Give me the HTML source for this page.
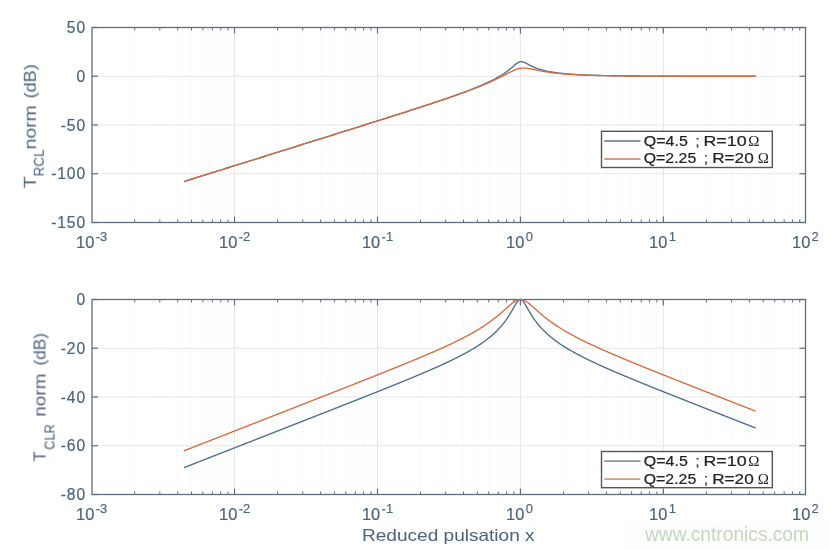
<!DOCTYPE html>
<html><head><meta charset="utf-8"><title>Bode plot</title><style>
html,body{margin:0;padding:0;background:#fff;}
body{width:829px;height:550px;overflow:hidden;}
svg{display:block;}
text{font-family:"Liberation Sans",sans-serif;will-change:transform;}
.tl{font-size:15.6px;fill:#4b6280;stroke:#4b6280;stroke-width:0.2px;letter-spacing:0.9px;}
.xt{font-size:15.6px;fill:#4b6280;stroke:#4b6280;stroke-width:0.2px;}
.sup{font-size:13px;fill:#4b6280;stroke:#4b6280;stroke-width:0.15px;}
.yl{font-size:16.5px;fill:#4b6280;}
.ys{font-size:14.5px;fill:#4b6280;}
.xl{font-size:16.5px;fill:#4b6280;}
.lg{font-size:14.2px;fill:#222;stroke:#222;stroke-width:0.2px;}
.om{font-family:"Liberation Serif",serif;font-size:15px;stroke:none;}
.wm{font-size:19.6px;fill:#c3d8bb;}
</style></head>
<body>
<svg width="829" height="550" viewBox="0 0 829 550">
<line x1="134.63" y1="27.5" x2="134.63" y2="222.5" stroke="#ebebeb" stroke-width="1" stroke-dasharray="1 3"/>
<line x1="159.80" y1="27.5" x2="159.80" y2="222.5" stroke="#ebebeb" stroke-width="1" stroke-dasharray="1 3"/>
<line x1="177.66" y1="27.5" x2="177.66" y2="222.5" stroke="#ebebeb" stroke-width="1" stroke-dasharray="1 3"/>
<line x1="191.51" y1="27.5" x2="191.51" y2="222.5" stroke="#ebebeb" stroke-width="1" stroke-dasharray="1 3"/>
<line x1="202.83" y1="27.5" x2="202.83" y2="222.5" stroke="#ebebeb" stroke-width="1" stroke-dasharray="1 3"/>
<line x1="212.40" y1="27.5" x2="212.40" y2="222.5" stroke="#ebebeb" stroke-width="1" stroke-dasharray="1 3"/>
<line x1="220.69" y1="27.5" x2="220.69" y2="222.5" stroke="#ebebeb" stroke-width="1" stroke-dasharray="1 3"/>
<line x1="228.00" y1="27.5" x2="228.00" y2="222.5" stroke="#ebebeb" stroke-width="1" stroke-dasharray="1 3"/>
<line x1="277.57" y1="27.5" x2="277.57" y2="222.5" stroke="#ebebeb" stroke-width="1" stroke-dasharray="1 3"/>
<line x1="302.74" y1="27.5" x2="302.74" y2="222.5" stroke="#ebebeb" stroke-width="1" stroke-dasharray="1 3"/>
<line x1="320.60" y1="27.5" x2="320.60" y2="222.5" stroke="#ebebeb" stroke-width="1" stroke-dasharray="1 3"/>
<line x1="334.45" y1="27.5" x2="334.45" y2="222.5" stroke="#ebebeb" stroke-width="1" stroke-dasharray="1 3"/>
<line x1="345.77" y1="27.5" x2="345.77" y2="222.5" stroke="#ebebeb" stroke-width="1" stroke-dasharray="1 3"/>
<line x1="355.34" y1="27.5" x2="355.34" y2="222.5" stroke="#ebebeb" stroke-width="1" stroke-dasharray="1 3"/>
<line x1="363.63" y1="27.5" x2="363.63" y2="222.5" stroke="#ebebeb" stroke-width="1" stroke-dasharray="1 3"/>
<line x1="370.94" y1="27.5" x2="370.94" y2="222.5" stroke="#ebebeb" stroke-width="1" stroke-dasharray="1 3"/>
<line x1="420.51" y1="27.5" x2="420.51" y2="222.5" stroke="#ebebeb" stroke-width="1" stroke-dasharray="1 3"/>
<line x1="445.68" y1="27.5" x2="445.68" y2="222.5" stroke="#ebebeb" stroke-width="1" stroke-dasharray="1 3"/>
<line x1="463.54" y1="27.5" x2="463.54" y2="222.5" stroke="#ebebeb" stroke-width="1" stroke-dasharray="1 3"/>
<line x1="477.39" y1="27.5" x2="477.39" y2="222.5" stroke="#ebebeb" stroke-width="1" stroke-dasharray="1 3"/>
<line x1="488.71" y1="27.5" x2="488.71" y2="222.5" stroke="#ebebeb" stroke-width="1" stroke-dasharray="1 3"/>
<line x1="498.28" y1="27.5" x2="498.28" y2="222.5" stroke="#ebebeb" stroke-width="1" stroke-dasharray="1 3"/>
<line x1="506.57" y1="27.5" x2="506.57" y2="222.5" stroke="#ebebeb" stroke-width="1" stroke-dasharray="1 3"/>
<line x1="513.88" y1="27.5" x2="513.88" y2="222.5" stroke="#ebebeb" stroke-width="1" stroke-dasharray="1 3"/>
<line x1="563.45" y1="27.5" x2="563.45" y2="222.5" stroke="#ebebeb" stroke-width="1" stroke-dasharray="1 3"/>
<line x1="588.62" y1="27.5" x2="588.62" y2="222.5" stroke="#ebebeb" stroke-width="1" stroke-dasharray="1 3"/>
<line x1="606.48" y1="27.5" x2="606.48" y2="222.5" stroke="#ebebeb" stroke-width="1" stroke-dasharray="1 3"/>
<line x1="620.33" y1="27.5" x2="620.33" y2="222.5" stroke="#ebebeb" stroke-width="1" stroke-dasharray="1 3"/>
<line x1="631.65" y1="27.5" x2="631.65" y2="222.5" stroke="#ebebeb" stroke-width="1" stroke-dasharray="1 3"/>
<line x1="641.22" y1="27.5" x2="641.22" y2="222.5" stroke="#ebebeb" stroke-width="1" stroke-dasharray="1 3"/>
<line x1="649.51" y1="27.5" x2="649.51" y2="222.5" stroke="#ebebeb" stroke-width="1" stroke-dasharray="1 3"/>
<line x1="656.82" y1="27.5" x2="656.82" y2="222.5" stroke="#ebebeb" stroke-width="1" stroke-dasharray="1 3"/>
<line x1="706.39" y1="27.5" x2="706.39" y2="222.5" stroke="#ebebeb" stroke-width="1" stroke-dasharray="1 3"/>
<line x1="731.56" y1="27.5" x2="731.56" y2="222.5" stroke="#ebebeb" stroke-width="1" stroke-dasharray="1 3"/>
<line x1="749.42" y1="27.5" x2="749.42" y2="222.5" stroke="#ebebeb" stroke-width="1" stroke-dasharray="1 3"/>
<line x1="763.27" y1="27.5" x2="763.27" y2="222.5" stroke="#ebebeb" stroke-width="1" stroke-dasharray="1 3"/>
<line x1="774.59" y1="27.5" x2="774.59" y2="222.5" stroke="#ebebeb" stroke-width="1" stroke-dasharray="1 3"/>
<line x1="784.16" y1="27.5" x2="784.16" y2="222.5" stroke="#ebebeb" stroke-width="1" stroke-dasharray="1 3"/>
<line x1="792.45" y1="27.5" x2="792.45" y2="222.5" stroke="#ebebeb" stroke-width="1" stroke-dasharray="1 3"/>
<line x1="799.76" y1="27.5" x2="799.76" y2="222.5" stroke="#ebebeb" stroke-width="1" stroke-dasharray="1 3"/>
<line x1="234.54" y1="27.5" x2="234.54" y2="222.5" stroke="#e6e6e6" stroke-width="1"/>
<line x1="377.48" y1="27.5" x2="377.48" y2="222.5" stroke="#e6e6e6" stroke-width="1"/>
<line x1="520.42" y1="27.5" x2="520.42" y2="222.5" stroke="#e6e6e6" stroke-width="1"/>
<line x1="663.36" y1="27.5" x2="663.36" y2="222.5" stroke="#e6e6e6" stroke-width="1"/>
<line x1="92.0" y1="76.25" x2="805.5" y2="76.25" stroke="#e6e6e6" stroke-width="1"/>
<line x1="92.0" y1="125.00" x2="805.5" y2="125.00" stroke="#e6e6e6" stroke-width="1"/>
<line x1="92.0" y1="173.75" x2="805.5" y2="173.75" stroke="#e6e6e6" stroke-width="1"/>
<line x1="234.54" y1="27.5" x2="234.54" y2="33.5" stroke="#606e7c" stroke-width="1.2"/>
<line x1="234.54" y1="222.5" x2="234.54" y2="216.5" stroke="#606e7c" stroke-width="1.2"/>
<line x1="377.48" y1="27.5" x2="377.48" y2="33.5" stroke="#606e7c" stroke-width="1.2"/>
<line x1="377.48" y1="222.5" x2="377.48" y2="216.5" stroke="#606e7c" stroke-width="1.2"/>
<line x1="520.42" y1="27.5" x2="520.42" y2="33.5" stroke="#606e7c" stroke-width="1.2"/>
<line x1="520.42" y1="222.5" x2="520.42" y2="216.5" stroke="#606e7c" stroke-width="1.2"/>
<line x1="663.36" y1="27.5" x2="663.36" y2="33.5" stroke="#606e7c" stroke-width="1.2"/>
<line x1="663.36" y1="222.5" x2="663.36" y2="216.5" stroke="#606e7c" stroke-width="1.2"/>
<line x1="134.63" y1="27.5" x2="134.63" y2="30.5" stroke="#606e7c" stroke-width="1"/>
<line x1="134.63" y1="222.5" x2="134.63" y2="219.5" stroke="#606e7c" stroke-width="1"/>
<line x1="159.80" y1="27.5" x2="159.80" y2="30.5" stroke="#606e7c" stroke-width="1"/>
<line x1="159.80" y1="222.5" x2="159.80" y2="219.5" stroke="#606e7c" stroke-width="1"/>
<line x1="177.66" y1="27.5" x2="177.66" y2="30.5" stroke="#606e7c" stroke-width="1"/>
<line x1="177.66" y1="222.5" x2="177.66" y2="219.5" stroke="#606e7c" stroke-width="1"/>
<line x1="191.51" y1="27.5" x2="191.51" y2="30.5" stroke="#606e7c" stroke-width="1"/>
<line x1="191.51" y1="222.5" x2="191.51" y2="219.5" stroke="#606e7c" stroke-width="1"/>
<line x1="202.83" y1="27.5" x2="202.83" y2="30.5" stroke="#606e7c" stroke-width="1"/>
<line x1="202.83" y1="222.5" x2="202.83" y2="219.5" stroke="#606e7c" stroke-width="1"/>
<line x1="212.40" y1="27.5" x2="212.40" y2="30.5" stroke="#606e7c" stroke-width="1"/>
<line x1="212.40" y1="222.5" x2="212.40" y2="219.5" stroke="#606e7c" stroke-width="1"/>
<line x1="220.69" y1="27.5" x2="220.69" y2="30.5" stroke="#606e7c" stroke-width="1"/>
<line x1="220.69" y1="222.5" x2="220.69" y2="219.5" stroke="#606e7c" stroke-width="1"/>
<line x1="228.00" y1="27.5" x2="228.00" y2="30.5" stroke="#606e7c" stroke-width="1"/>
<line x1="228.00" y1="222.5" x2="228.00" y2="219.5" stroke="#606e7c" stroke-width="1"/>
<line x1="277.57" y1="27.5" x2="277.57" y2="30.5" stroke="#606e7c" stroke-width="1"/>
<line x1="277.57" y1="222.5" x2="277.57" y2="219.5" stroke="#606e7c" stroke-width="1"/>
<line x1="302.74" y1="27.5" x2="302.74" y2="30.5" stroke="#606e7c" stroke-width="1"/>
<line x1="302.74" y1="222.5" x2="302.74" y2="219.5" stroke="#606e7c" stroke-width="1"/>
<line x1="320.60" y1="27.5" x2="320.60" y2="30.5" stroke="#606e7c" stroke-width="1"/>
<line x1="320.60" y1="222.5" x2="320.60" y2="219.5" stroke="#606e7c" stroke-width="1"/>
<line x1="334.45" y1="27.5" x2="334.45" y2="30.5" stroke="#606e7c" stroke-width="1"/>
<line x1="334.45" y1="222.5" x2="334.45" y2="219.5" stroke="#606e7c" stroke-width="1"/>
<line x1="345.77" y1="27.5" x2="345.77" y2="30.5" stroke="#606e7c" stroke-width="1"/>
<line x1="345.77" y1="222.5" x2="345.77" y2="219.5" stroke="#606e7c" stroke-width="1"/>
<line x1="355.34" y1="27.5" x2="355.34" y2="30.5" stroke="#606e7c" stroke-width="1"/>
<line x1="355.34" y1="222.5" x2="355.34" y2="219.5" stroke="#606e7c" stroke-width="1"/>
<line x1="363.63" y1="27.5" x2="363.63" y2="30.5" stroke="#606e7c" stroke-width="1"/>
<line x1="363.63" y1="222.5" x2="363.63" y2="219.5" stroke="#606e7c" stroke-width="1"/>
<line x1="370.94" y1="27.5" x2="370.94" y2="30.5" stroke="#606e7c" stroke-width="1"/>
<line x1="370.94" y1="222.5" x2="370.94" y2="219.5" stroke="#606e7c" stroke-width="1"/>
<line x1="420.51" y1="27.5" x2="420.51" y2="30.5" stroke="#606e7c" stroke-width="1"/>
<line x1="420.51" y1="222.5" x2="420.51" y2="219.5" stroke="#606e7c" stroke-width="1"/>
<line x1="445.68" y1="27.5" x2="445.68" y2="30.5" stroke="#606e7c" stroke-width="1"/>
<line x1="445.68" y1="222.5" x2="445.68" y2="219.5" stroke="#606e7c" stroke-width="1"/>
<line x1="463.54" y1="27.5" x2="463.54" y2="30.5" stroke="#606e7c" stroke-width="1"/>
<line x1="463.54" y1="222.5" x2="463.54" y2="219.5" stroke="#606e7c" stroke-width="1"/>
<line x1="477.39" y1="27.5" x2="477.39" y2="30.5" stroke="#606e7c" stroke-width="1"/>
<line x1="477.39" y1="222.5" x2="477.39" y2="219.5" stroke="#606e7c" stroke-width="1"/>
<line x1="488.71" y1="27.5" x2="488.71" y2="30.5" stroke="#606e7c" stroke-width="1"/>
<line x1="488.71" y1="222.5" x2="488.71" y2="219.5" stroke="#606e7c" stroke-width="1"/>
<line x1="498.28" y1="27.5" x2="498.28" y2="30.5" stroke="#606e7c" stroke-width="1"/>
<line x1="498.28" y1="222.5" x2="498.28" y2="219.5" stroke="#606e7c" stroke-width="1"/>
<line x1="506.57" y1="27.5" x2="506.57" y2="30.5" stroke="#606e7c" stroke-width="1"/>
<line x1="506.57" y1="222.5" x2="506.57" y2="219.5" stroke="#606e7c" stroke-width="1"/>
<line x1="513.88" y1="27.5" x2="513.88" y2="30.5" stroke="#606e7c" stroke-width="1"/>
<line x1="513.88" y1="222.5" x2="513.88" y2="219.5" stroke="#606e7c" stroke-width="1"/>
<line x1="563.45" y1="27.5" x2="563.45" y2="30.5" stroke="#606e7c" stroke-width="1"/>
<line x1="563.45" y1="222.5" x2="563.45" y2="219.5" stroke="#606e7c" stroke-width="1"/>
<line x1="588.62" y1="27.5" x2="588.62" y2="30.5" stroke="#606e7c" stroke-width="1"/>
<line x1="588.62" y1="222.5" x2="588.62" y2="219.5" stroke="#606e7c" stroke-width="1"/>
<line x1="606.48" y1="27.5" x2="606.48" y2="30.5" stroke="#606e7c" stroke-width="1"/>
<line x1="606.48" y1="222.5" x2="606.48" y2="219.5" stroke="#606e7c" stroke-width="1"/>
<line x1="620.33" y1="27.5" x2="620.33" y2="30.5" stroke="#606e7c" stroke-width="1"/>
<line x1="620.33" y1="222.5" x2="620.33" y2="219.5" stroke="#606e7c" stroke-width="1"/>
<line x1="631.65" y1="27.5" x2="631.65" y2="30.5" stroke="#606e7c" stroke-width="1"/>
<line x1="631.65" y1="222.5" x2="631.65" y2="219.5" stroke="#606e7c" stroke-width="1"/>
<line x1="641.22" y1="27.5" x2="641.22" y2="30.5" stroke="#606e7c" stroke-width="1"/>
<line x1="641.22" y1="222.5" x2="641.22" y2="219.5" stroke="#606e7c" stroke-width="1"/>
<line x1="649.51" y1="27.5" x2="649.51" y2="30.5" stroke="#606e7c" stroke-width="1"/>
<line x1="649.51" y1="222.5" x2="649.51" y2="219.5" stroke="#606e7c" stroke-width="1"/>
<line x1="656.82" y1="27.5" x2="656.82" y2="30.5" stroke="#606e7c" stroke-width="1"/>
<line x1="656.82" y1="222.5" x2="656.82" y2="219.5" stroke="#606e7c" stroke-width="1"/>
<line x1="706.39" y1="27.5" x2="706.39" y2="30.5" stroke="#606e7c" stroke-width="1"/>
<line x1="706.39" y1="222.5" x2="706.39" y2="219.5" stroke="#606e7c" stroke-width="1"/>
<line x1="731.56" y1="27.5" x2="731.56" y2="30.5" stroke="#606e7c" stroke-width="1"/>
<line x1="731.56" y1="222.5" x2="731.56" y2="219.5" stroke="#606e7c" stroke-width="1"/>
<line x1="749.42" y1="27.5" x2="749.42" y2="30.5" stroke="#606e7c" stroke-width="1"/>
<line x1="749.42" y1="222.5" x2="749.42" y2="219.5" stroke="#606e7c" stroke-width="1"/>
<line x1="763.27" y1="27.5" x2="763.27" y2="30.5" stroke="#606e7c" stroke-width="1"/>
<line x1="763.27" y1="222.5" x2="763.27" y2="219.5" stroke="#606e7c" stroke-width="1"/>
<line x1="774.59" y1="27.5" x2="774.59" y2="30.5" stroke="#606e7c" stroke-width="1"/>
<line x1="774.59" y1="222.5" x2="774.59" y2="219.5" stroke="#606e7c" stroke-width="1"/>
<line x1="784.16" y1="27.5" x2="784.16" y2="30.5" stroke="#606e7c" stroke-width="1"/>
<line x1="784.16" y1="222.5" x2="784.16" y2="219.5" stroke="#606e7c" stroke-width="1"/>
<line x1="792.45" y1="27.5" x2="792.45" y2="30.5" stroke="#606e7c" stroke-width="1"/>
<line x1="792.45" y1="222.5" x2="792.45" y2="219.5" stroke="#606e7c" stroke-width="1"/>
<line x1="799.76" y1="27.5" x2="799.76" y2="30.5" stroke="#606e7c" stroke-width="1"/>
<line x1="799.76" y1="222.5" x2="799.76" y2="219.5" stroke="#606e7c" stroke-width="1"/>
<line x1="92.0" y1="27.50" x2="98.0" y2="27.50" stroke="#606e7c" stroke-width="1.2"/>
<line x1="805.5" y1="27.50" x2="799.5" y2="27.50" stroke="#606e7c" stroke-width="1.2"/>
<line x1="92.0" y1="76.25" x2="98.0" y2="76.25" stroke="#606e7c" stroke-width="1.2"/>
<line x1="805.5" y1="76.25" x2="799.5" y2="76.25" stroke="#606e7c" stroke-width="1.2"/>
<line x1="92.0" y1="125.00" x2="98.0" y2="125.00" stroke="#606e7c" stroke-width="1.2"/>
<line x1="805.5" y1="125.00" x2="799.5" y2="125.00" stroke="#606e7c" stroke-width="1.2"/>
<line x1="92.0" y1="173.75" x2="98.0" y2="173.75" stroke="#606e7c" stroke-width="1.2"/>
<line x1="805.5" y1="173.75" x2="799.5" y2="173.75" stroke="#606e7c" stroke-width="1.2"/>
<line x1="92.0" y1="222.50" x2="98.0" y2="222.50" stroke="#606e7c" stroke-width="1.2"/>
<line x1="805.5" y1="222.50" x2="799.5" y2="222.50" stroke="#606e7c" stroke-width="1.2"/>
<rect x="92.0" y="27.5" width="713.5" height="195.0" fill="none" stroke="#606e7c" stroke-width="1.3"/>
<polyline fill="none" stroke="#4a6d91" stroke-width="1.35" stroke-linejoin="round" points="183.94,181.55 184.76,181.30 185.57,181.04 186.39,180.78 187.21,180.53 188.02,180.27 188.84,180.02 189.66,179.76 190.47,179.51 191.29,179.25 192.11,179.00 192.92,178.74 193.74,178.48 194.56,178.23 195.37,177.97 196.19,177.72 197.01,177.46 197.82,177.21 198.64,176.95 199.46,176.69 200.28,176.44 201.09,176.18 201.91,175.93 202.73,175.67 203.54,175.42 204.36,175.16 205.18,174.91 205.99,174.65 206.81,174.39 207.63,174.14 208.44,173.88 209.26,173.63 210.08,173.37 210.89,173.12 211.71,172.86 212.53,172.60 213.34,172.35 214.16,172.09 214.98,171.84 215.79,171.58 216.61,171.33 217.43,171.07 218.24,170.82 219.06,170.56 219.88,170.30 220.70,170.05 221.51,169.79 222.33,169.54 223.15,169.28 223.96,169.03 224.78,168.77 225.60,168.51 226.41,168.26 227.23,168.00 228.05,167.75 228.86,167.49 229.68,167.24 230.50,166.98 231.31,166.72 232.13,166.47 232.95,166.21 233.76,165.96 234.58,165.70 235.40,165.45 236.21,165.19 237.03,164.94 237.85,164.68 238.66,164.42 239.48,164.17 240.30,163.91 241.12,163.66 241.93,163.40 242.75,163.15 243.57,162.89 244.38,162.63 245.20,162.38 246.02,162.12 246.83,161.87 247.65,161.61 248.47,161.36 249.28,161.10 250.10,160.84 250.92,160.59 251.73,160.33 252.55,160.08 253.37,159.82 254.18,159.57 255.00,159.31 255.82,159.06 256.63,158.80 257.45,158.54 258.27,158.29 259.08,158.03 259.90,157.78 260.72,157.52 261.54,157.27 262.35,157.01 263.17,156.75 263.99,156.50 264.80,156.24 265.62,155.99 266.44,155.73 267.25,155.48 268.07,155.22 268.89,154.96 269.70,154.71 270.52,154.45 271.34,154.20 272.15,153.94 272.97,153.69 273.79,153.43 274.60,153.17 275.42,152.92 276.24,152.66 277.05,152.41 277.87,152.15 278.69,151.90 279.50,151.64 280.32,151.38 281.14,151.13 281.96,150.87 282.77,150.62 283.59,150.36 284.41,150.11 285.22,149.85 286.04,149.59 286.86,149.34 287.67,149.08 288.49,148.83 289.31,148.57 290.12,148.32 290.94,148.06 291.76,147.80 292.57,147.55 293.39,147.29 294.21,147.04 295.02,146.78 295.84,146.53 296.66,146.27 297.47,146.01 298.29,145.76 299.11,145.50 299.92,145.25 300.74,144.99 301.56,144.73 302.38,144.48 303.19,144.22 304.01,143.97 304.83,143.71 305.64,143.46 306.46,143.20 307.28,142.94 308.09,142.69 308.91,142.43 309.73,142.18 310.54,141.92 311.36,141.66 312.18,141.41 312.99,141.15 313.81,140.90 314.63,140.64 315.44,140.38 316.26,140.13 317.08,139.87 317.89,139.62 318.71,139.36 319.53,139.10 320.34,138.85 321.16,138.59 321.98,138.34 322.80,138.08 323.61,137.82 324.43,137.57 325.25,137.31 326.06,137.06 326.88,136.80 327.70,136.54 328.51,136.29 329.33,136.03 330.15,135.78 330.96,135.52 331.78,135.26 332.60,135.01 333.41,134.75 334.23,134.49 335.05,134.24 335.86,133.98 336.68,133.73 337.50,133.47 338.31,133.21 339.13,132.96 339.95,132.70 340.76,132.44 341.58,132.19 342.40,131.93 343.22,131.67 344.03,131.42 344.85,131.16 345.67,130.91 346.48,130.65 347.30,130.39 348.12,130.14 348.93,129.88 349.75,129.62 350.57,129.37 351.38,129.11 352.20,128.85 353.02,128.60 353.83,128.34 354.65,128.08 355.47,127.83 356.28,127.57 357.10,127.31 357.92,127.05 358.73,126.80 359.55,126.54 360.37,126.28 361.18,126.03 362.00,125.77 362.82,125.51 363.64,125.25 364.45,125.00 365.27,124.74 366.09,124.48 366.90,124.23 367.72,123.97 368.54,123.71 369.35,123.45 370.17,123.20 370.99,122.94 371.80,122.68 372.62,122.42 373.44,122.16 374.25,121.91 375.07,121.65 375.89,121.39 376.70,121.13 377.52,120.87 378.34,120.62 379.15,120.36 379.97,120.10 380.79,119.84 381.60,119.58 382.42,119.32 383.24,119.07 384.06,118.81 384.87,118.55 385.69,118.29 386.51,118.03 387.32,117.77 388.14,117.51 388.96,117.25 389.77,116.99 390.59,116.73 391.41,116.48 392.22,116.22 393.04,115.96 393.86,115.70 394.67,115.44 395.49,115.18 396.31,114.92 397.12,114.66 397.94,114.39 398.76,114.13 399.57,113.87 400.39,113.61 401.21,113.35 402.02,113.09 402.84,112.83 403.66,112.57 404.48,112.31 405.29,112.04 406.11,111.78 406.93,111.52 407.74,111.26 408.56,111.00 409.38,110.73 410.19,110.47 411.01,110.21 411.83,109.94 412.64,109.68 413.46,109.42 414.28,109.15 415.09,108.89 415.91,108.62 416.73,108.36 417.54,108.09 418.36,107.83 419.18,107.56 419.99,107.30 420.81,107.03 421.63,106.77 422.44,106.50 423.26,106.23 424.08,105.97 424.90,105.70 425.71,105.43 426.53,105.16 427.35,104.89 428.16,104.63 428.98,104.36 429.80,104.09 430.61,103.82 431.43,103.55 432.25,103.28 433.06,103.00 433.88,102.73 434.70,102.46 435.51,102.19 436.33,101.91 437.15,101.64 437.96,101.37 438.78,101.09 439.60,100.82 440.41,100.54 441.23,100.27 442.05,99.99 442.86,99.71 443.68,99.43 444.50,99.15 445.32,98.87 446.13,98.59 446.95,98.31 447.77,98.03 448.58,97.75 449.40,97.47 450.22,97.18 451.03,96.90 451.85,96.61 452.67,96.33 453.48,96.04 454.30,95.75 455.12,95.46 455.93,95.17 456.75,94.88 457.57,94.59 458.38,94.29 459.20,94.00 460.02,93.70 460.83,93.40 461.65,93.11 462.47,92.81 463.28,92.51 464.10,92.20 464.92,91.90 465.74,91.59 466.55,91.29 467.37,90.98 468.19,90.67 469.00,90.35 469.82,90.04 470.64,89.72 471.45,89.41 472.27,89.09 473.09,88.76 473.90,88.44 474.72,88.11 475.54,87.78 476.35,87.45 477.17,87.12 477.99,86.78 478.80,86.44 479.62,86.10 480.44,85.75 481.25,85.40 482.07,85.05 482.89,84.70 483.70,84.34 484.52,83.97 485.34,83.61 486.16,83.24 486.97,82.86 487.79,82.48 488.61,82.09 489.42,81.70 490.24,81.31 491.06,80.91 491.87,80.50 492.69,80.09 493.51,79.67 494.32,79.24 495.14,78.81 495.96,78.37 496.77,77.92 497.59,77.46 498.41,77.00 499.22,76.52 500.04,76.03 500.86,75.54 501.67,75.03 502.49,74.51 503.31,73.98 504.12,73.44 504.94,72.88 505.76,72.30 506.58,71.72 507.39,71.11 508.21,70.49 509.03,69.85 509.84,69.20 510.66,68.53 511.48,67.85 512.29,67.16 513.11,66.45 513.93,65.75 514.74,65.05 515.56,64.36 516.38,63.71 517.19,63.11 518.01,62.58 518.83,62.14 519.64,61.82 520.46,61.63 521.28,61.58 522.09,61.66 522.91,61.85 523.73,62.13 524.54,62.48 525.36,62.88 526.18,63.31 527.00,63.76 527.81,64.21 528.63,64.66 529.45,65.10 530.26,65.52 531.08,65.93 531.90,66.33 532.71,66.71 533.53,67.07 534.35,67.42 535.16,67.75 535.98,68.06 536.80,68.37 537.61,68.65 538.43,68.93 539.25,69.19 540.06,69.44 540.88,69.68 541.70,69.91 542.51,70.13 543.33,70.34 544.15,70.54 544.96,70.73 545.78,70.92 546.60,71.09 547.42,71.26 548.23,71.43 549.05,71.58 549.87,71.73 550.68,71.88 551.50,72.02 552.32,72.15 553.13,72.28 553.95,72.40 554.77,72.52 555.58,72.64 556.40,72.75 557.22,72.86 558.03,72.96 558.85,73.06 559.67,73.16 560.48,73.25 561.30,73.34 562.12,73.43 562.93,73.51 563.75,73.59 564.57,73.67 565.38,73.74 566.20,73.82 567.02,73.89 567.84,73.96 568.65,74.02 569.47,74.09 570.29,74.15 571.10,74.21 571.92,74.27 572.74,74.33 573.55,74.38 574.37,74.43 575.19,74.48 576.00,74.53 576.82,74.58 577.64,74.63 578.45,74.67 579.27,74.72 580.09,74.76 580.90,74.80 581.72,74.84 582.54,74.88 583.35,74.92 584.17,74.96 584.99,74.99 585.80,75.03 586.62,75.06 587.44,75.09 588.26,75.13 589.07,75.16 589.89,75.19 590.71,75.22 591.52,75.24 592.34,75.27 593.16,75.30 593.97,75.32 594.79,75.35 595.61,75.37 596.42,75.40 597.24,75.42 598.06,75.44 598.87,75.46 599.69,75.49 600.51,75.51 601.32,75.53 602.14,75.55 602.96,75.56 603.77,75.58 604.59,75.60 605.41,75.62 606.22,75.63 607.04,75.65 607.86,75.67 608.68,75.68 609.49,75.70 610.31,75.71 611.13,75.73 611.94,75.74 612.76,75.75 613.58,75.77 614.39,75.78 615.21,75.79 616.03,75.81 616.84,75.82 617.66,75.83 618.48,75.84 619.29,75.85 620.11,75.86 620.93,75.87 621.74,75.88 622.56,75.89 623.38,75.90 624.19,75.91 625.01,75.92 625.83,75.93 626.64,75.94 627.46,75.94 628.28,75.95 629.10,75.96 629.91,75.97 630.73,75.98 631.55,75.98 632.36,75.99 633.18,76.00 634.00,76.00 634.81,76.01 635.63,76.02 636.45,76.02 637.26,76.03 638.08,76.03 638.90,76.04 639.71,76.05 640.53,76.05 641.35,76.06 642.16,76.06 642.98,76.07 643.80,76.07 644.61,76.08 645.43,76.08 646.25,76.08 647.06,76.09 647.88,76.09 648.70,76.10 649.52,76.10 650.33,76.10 651.15,76.11 651.97,76.11 652.78,76.12 653.60,76.12 654.42,76.12 655.23,76.13 656.05,76.13 656.87,76.13 657.68,76.14 658.50,76.14 659.32,76.14 660.13,76.14 660.95,76.15 661.77,76.15 662.58,76.15 663.40,76.15 664.22,76.16 665.03,76.16 665.85,76.16 666.67,76.16 667.48,76.17 668.30,76.17 669.12,76.17 669.94,76.17 670.75,76.18 671.57,76.18 672.39,76.18 673.20,76.18 674.02,76.18 674.84,76.18 675.65,76.19 676.47,76.19 677.29,76.19 678.10,76.19 678.92,76.19 679.74,76.19 680.55,76.20 681.37,76.20 682.19,76.20 683.00,76.20 683.82,76.20 684.64,76.20 685.45,76.20 686.27,76.20 687.09,76.21 687.90,76.21 688.72,76.21 689.54,76.21 690.36,76.21 691.17,76.21 691.99,76.21 692.81,76.21 693.62,76.21 694.44,76.22 695.26,76.22 696.07,76.22 696.89,76.22 697.71,76.22 698.52,76.22 699.34,76.22 700.16,76.22 700.97,76.22 701.79,76.22 702.61,76.22 703.42,76.22 704.24,76.22 705.06,76.23 705.87,76.23 706.69,76.23 707.51,76.23 708.32,76.23 709.14,76.23 709.96,76.23 710.78,76.23 711.59,76.23 712.41,76.23 713.23,76.23 714.04,76.23 714.86,76.23 715.68,76.23 716.49,76.23 717.31,76.23 718.13,76.23 718.94,76.23 719.76,76.23 720.58,76.23 721.39,76.24 722.21,76.24 723.03,76.24 723.84,76.24 724.66,76.24 725.48,76.24 726.29,76.24 727.11,76.24 727.93,76.24 728.74,76.24 729.56,76.24 730.38,76.24 731.20,76.24 732.01,76.24 732.83,76.24 733.65,76.24 734.46,76.24 735.28,76.24 736.10,76.24 736.91,76.24 737.73,76.24 738.55,76.24 739.36,76.24 740.18,76.24 741.00,76.24 741.81,76.24 742.63,76.24 743.45,76.24 744.26,76.24 745.08,76.24 745.90,76.24 746.71,76.24 747.53,76.24 748.35,76.24 749.16,76.24 749.98,76.24 750.80,76.24 751.62,76.24 752.43,76.24 753.25,76.24 754.07,76.24 754.88,76.25 755.70,76.25"/>
<polyline fill="none" stroke="#d86a3e" stroke-width="1.35" stroke-linejoin="round" points="183.94,181.55 184.76,181.30 185.57,181.04 186.39,180.78 187.21,180.53 188.02,180.27 188.84,180.02 189.66,179.76 190.47,179.51 191.29,179.25 192.11,179.00 192.92,178.74 193.74,178.48 194.56,178.23 195.37,177.97 196.19,177.72 197.01,177.46 197.82,177.21 198.64,176.95 199.46,176.69 200.28,176.44 201.09,176.18 201.91,175.93 202.73,175.67 203.54,175.42 204.36,175.16 205.18,174.91 205.99,174.65 206.81,174.39 207.63,174.14 208.44,173.88 209.26,173.63 210.08,173.37 210.89,173.12 211.71,172.86 212.53,172.60 213.34,172.35 214.16,172.09 214.98,171.84 215.79,171.58 216.61,171.33 217.43,171.07 218.24,170.82 219.06,170.56 219.88,170.30 220.70,170.05 221.51,169.79 222.33,169.54 223.15,169.28 223.96,169.03 224.78,168.77 225.60,168.51 226.41,168.26 227.23,168.00 228.05,167.75 228.86,167.49 229.68,167.24 230.50,166.98 231.31,166.72 232.13,166.47 232.95,166.21 233.76,165.96 234.58,165.70 235.40,165.45 236.21,165.19 237.03,164.94 237.85,164.68 238.66,164.42 239.48,164.17 240.30,163.91 241.12,163.66 241.93,163.40 242.75,163.15 243.57,162.89 244.38,162.63 245.20,162.38 246.02,162.12 246.83,161.87 247.65,161.61 248.47,161.36 249.28,161.10 250.10,160.85 250.92,160.59 251.73,160.33 252.55,160.08 253.37,159.82 254.18,159.57 255.00,159.31 255.82,159.06 256.63,158.80 257.45,158.54 258.27,158.29 259.08,158.03 259.90,157.78 260.72,157.52 261.54,157.27 262.35,157.01 263.17,156.75 263.99,156.50 264.80,156.24 265.62,155.99 266.44,155.73 267.25,155.48 268.07,155.22 268.89,154.96 269.70,154.71 270.52,154.45 271.34,154.20 272.15,153.94 272.97,153.69 273.79,153.43 274.60,153.17 275.42,152.92 276.24,152.66 277.05,152.41 277.87,152.15 278.69,151.90 279.50,151.64 280.32,151.38 281.14,151.13 281.96,150.87 282.77,150.62 283.59,150.36 284.41,150.11 285.22,149.85 286.04,149.59 286.86,149.34 287.67,149.08 288.49,148.83 289.31,148.57 290.12,148.32 290.94,148.06 291.76,147.80 292.57,147.55 293.39,147.29 294.21,147.04 295.02,146.78 295.84,146.53 296.66,146.27 297.47,146.01 298.29,145.76 299.11,145.50 299.92,145.25 300.74,144.99 301.56,144.74 302.38,144.48 303.19,144.22 304.01,143.97 304.83,143.71 305.64,143.46 306.46,143.20 307.28,142.94 308.09,142.69 308.91,142.43 309.73,142.18 310.54,141.92 311.36,141.66 312.18,141.41 312.99,141.15 313.81,140.90 314.63,140.64 315.44,140.39 316.26,140.13 317.08,139.87 317.89,139.62 318.71,139.36 319.53,139.11 320.34,138.85 321.16,138.59 321.98,138.34 322.80,138.08 323.61,137.83 324.43,137.57 325.25,137.31 326.06,137.06 326.88,136.80 327.70,136.55 328.51,136.29 329.33,136.03 330.15,135.78 330.96,135.52 331.78,135.26 332.60,135.01 333.41,134.75 334.23,134.50 335.05,134.24 335.86,133.98 336.68,133.73 337.50,133.47 338.31,133.22 339.13,132.96 339.95,132.70 340.76,132.45 341.58,132.19 342.40,131.93 343.22,131.68 344.03,131.42 344.85,131.16 345.67,130.91 346.48,130.65 347.30,130.39 348.12,130.14 348.93,129.88 349.75,129.63 350.57,129.37 351.38,129.11 352.20,128.86 353.02,128.60 353.83,128.34 354.65,128.09 355.47,127.83 356.28,127.57 357.10,127.32 357.92,127.06 358.73,126.80 359.55,126.54 360.37,126.29 361.18,126.03 362.00,125.77 362.82,125.52 363.64,125.26 364.45,125.00 365.27,124.75 366.09,124.49 366.90,124.23 367.72,123.97 368.54,123.72 369.35,123.46 370.17,123.20 370.99,122.94 371.80,122.69 372.62,122.43 373.44,122.17 374.25,121.91 375.07,121.66 375.89,121.40 376.70,121.14 377.52,120.88 378.34,120.62 379.15,120.37 379.97,120.11 380.79,119.85 381.60,119.59 382.42,119.33 383.24,119.08 384.06,118.82 384.87,118.56 385.69,118.30 386.51,118.04 387.32,117.78 388.14,117.52 388.96,117.26 389.77,117.01 390.59,116.75 391.41,116.49 392.22,116.23 393.04,115.97 393.86,115.71 394.67,115.45 395.49,115.19 396.31,114.93 397.12,114.67 397.94,114.41 398.76,114.15 399.57,113.89 400.39,113.63 401.21,113.37 402.02,113.11 402.84,112.85 403.66,112.59 404.48,112.32 405.29,112.06 406.11,111.80 406.93,111.54 407.74,111.28 408.56,111.02 409.38,110.75 410.19,110.49 411.01,110.23 411.83,109.97 412.64,109.70 413.46,109.44 414.28,109.18 415.09,108.91 415.91,108.65 416.73,108.39 417.54,108.12 418.36,107.86 419.18,107.59 419.99,107.33 420.81,107.06 421.63,106.80 422.44,106.53 423.26,106.27 424.08,106.00 424.90,105.73 425.71,105.47 426.53,105.20 427.35,104.93 428.16,104.67 428.98,104.40 429.80,104.13 430.61,103.86 431.43,103.59 432.25,103.32 433.06,103.05 433.88,102.78 434.70,102.51 435.51,102.24 436.33,101.97 437.15,101.70 437.96,101.42 438.78,101.15 439.60,100.88 440.41,100.60 441.23,100.33 442.05,100.06 442.86,99.78 443.68,99.50 444.50,99.23 445.32,98.95 446.13,98.67 446.95,98.39 447.77,98.12 448.58,97.84 449.40,97.56 450.22,97.27 451.03,96.99 451.85,96.71 452.67,96.43 453.48,96.14 454.30,95.86 455.12,95.57 455.93,95.29 456.75,95.00 457.57,94.71 458.38,94.42 459.20,94.13 460.02,93.84 460.83,93.55 461.65,93.25 462.47,92.96 463.28,92.66 464.10,92.37 464.92,92.07 465.74,91.77 466.55,91.47 467.37,91.16 468.19,90.86 469.00,90.56 469.82,90.25 470.64,89.94 471.45,89.63 472.27,89.32 473.09,89.01 473.90,88.69 474.72,88.38 475.54,88.06 476.35,87.74 477.17,87.42 477.99,87.09 478.80,86.77 479.62,86.44 480.44,86.11 481.25,85.78 482.07,85.44 482.89,85.10 483.70,84.76 484.52,84.42 485.34,84.07 486.16,83.72 486.97,83.37 487.79,83.02 488.61,82.66 489.42,82.30 490.24,81.94 491.06,81.57 491.87,81.20 492.69,80.83 493.51,80.45 494.32,80.07 495.14,79.69 495.96,79.30 496.77,78.91 497.59,78.51 498.41,78.11 499.22,77.71 500.04,77.30 500.86,76.89 501.67,76.48 502.49,76.07 503.31,75.65 504.12,75.23 504.94,74.81 505.76,74.39 506.58,73.96 507.39,73.54 508.21,73.12 509.03,72.70 509.84,72.29 510.66,71.88 511.48,71.49 512.29,71.10 513.11,70.72 513.93,70.36 514.74,70.02 515.56,69.70 516.38,69.41 517.19,69.14 518.01,68.90 518.83,68.69 519.64,68.51 520.46,68.37 521.28,68.26 522.09,68.18 522.91,68.14 523.73,68.13 524.54,68.14 525.36,68.19 526.18,68.25 527.00,68.34 527.81,68.45 528.63,68.57 529.45,68.70 530.26,68.85 531.08,69.00 531.90,69.15 532.71,69.32 533.53,69.48 534.35,69.65 535.16,69.81 535.98,69.98 536.80,70.15 537.61,70.31 538.43,70.47 539.25,70.63 540.06,70.79 540.88,70.94 541.70,71.09 542.51,71.24 543.33,71.38 544.15,71.52 544.96,71.65 545.78,71.79 546.60,71.92 547.42,72.04 548.23,72.16 549.05,72.28 549.87,72.39 550.68,72.50 551.50,72.61 552.32,72.72 553.13,72.82 553.95,72.92 554.77,73.01 555.58,73.10 556.40,73.19 557.22,73.28 558.03,73.36 558.85,73.45 559.67,73.53 560.48,73.60 561.30,73.68 562.12,73.75 562.93,73.82 563.75,73.89 564.57,73.96 565.38,74.02 566.20,74.08 567.02,74.14 567.84,74.20 568.65,74.26 569.47,74.31 570.29,74.37 571.10,74.42 571.92,74.47 572.74,74.52 573.55,74.57 574.37,74.61 575.19,74.66 576.00,74.70 576.82,74.74 577.64,74.79 578.45,74.83 579.27,74.86 580.09,74.90 580.90,74.94 581.72,74.98 582.54,75.01 583.35,75.04 584.17,75.08 584.99,75.11 585.80,75.14 586.62,75.17 587.44,75.20 588.26,75.23 589.07,75.25 589.89,75.28 590.71,75.31 591.52,75.33 592.34,75.36 593.16,75.38 593.97,75.40 594.79,75.43 595.61,75.45 596.42,75.47 597.24,75.49 598.06,75.51 598.87,75.53 599.69,75.55 600.51,75.57 601.32,75.59 602.14,75.60 602.96,75.62 603.77,75.64 604.59,75.65 605.41,75.67 606.22,75.69 607.04,75.70 607.86,75.72 608.68,75.73 609.49,75.74 610.31,75.76 611.13,75.77 611.94,75.78 612.76,75.80 613.58,75.81 614.39,75.82 615.21,75.83 616.03,75.84 616.84,75.85 617.66,75.86 618.48,75.87 619.29,75.88 620.11,75.89 620.93,75.90 621.74,75.91 622.56,75.92 623.38,75.93 624.19,75.94 625.01,75.95 625.83,75.95 626.64,75.96 627.46,75.97 628.28,75.98 629.10,75.98 629.91,75.99 630.73,76.00 631.55,76.00 632.36,76.01 633.18,76.02 634.00,76.02 634.81,76.03 635.63,76.03 636.45,76.04 637.26,76.05 638.08,76.05 638.90,76.06 639.71,76.06 640.53,76.07 641.35,76.07 642.16,76.08 642.98,76.08 643.80,76.08 644.61,76.09 645.43,76.09 646.25,76.10 647.06,76.10 647.88,76.11 648.70,76.11 649.52,76.11 650.33,76.12 651.15,76.12 651.97,76.12 652.78,76.13 653.60,76.13 654.42,76.13 655.23,76.14 656.05,76.14 656.87,76.14 657.68,76.14 658.50,76.15 659.32,76.15 660.13,76.15 660.95,76.16 661.77,76.16 662.58,76.16 663.40,76.16 664.22,76.16 665.03,76.17 665.85,76.17 666.67,76.17 667.48,76.17 668.30,76.18 669.12,76.18 669.94,76.18 670.75,76.18 671.57,76.18 672.39,76.18 673.20,76.19 674.02,76.19 674.84,76.19 675.65,76.19 676.47,76.19 677.29,76.19 678.10,76.20 678.92,76.20 679.74,76.20 680.55,76.20 681.37,76.20 682.19,76.20 683.00,76.20 683.82,76.20 684.64,76.21 685.45,76.21 686.27,76.21 687.09,76.21 687.90,76.21 688.72,76.21 689.54,76.21 690.36,76.21 691.17,76.21 691.99,76.22 692.81,76.22 693.62,76.22 694.44,76.22 695.26,76.22 696.07,76.22 696.89,76.22 697.71,76.22 698.52,76.22 699.34,76.22 700.16,76.22 700.97,76.22 701.79,76.22 702.61,76.23 703.42,76.23 704.24,76.23 705.06,76.23 705.87,76.23 706.69,76.23 707.51,76.23 708.32,76.23 709.14,76.23 709.96,76.23 710.78,76.23 711.59,76.23 712.41,76.23 713.23,76.23 714.04,76.23 714.86,76.23 715.68,76.23 716.49,76.23 717.31,76.23 718.13,76.23 718.94,76.24 719.76,76.24 720.58,76.24 721.39,76.24 722.21,76.24 723.03,76.24 723.84,76.24 724.66,76.24 725.48,76.24 726.29,76.24 727.11,76.24 727.93,76.24 728.74,76.24 729.56,76.24 730.38,76.24 731.20,76.24 732.01,76.24 732.83,76.24 733.65,76.24 734.46,76.24 735.28,76.24 736.10,76.24 736.91,76.24 737.73,76.24 738.55,76.24 739.36,76.24 740.18,76.24 741.00,76.24 741.81,76.24 742.63,76.24 743.45,76.24 744.26,76.24 745.08,76.24 745.90,76.24 746.71,76.24 747.53,76.24 748.35,76.24 749.16,76.24 749.98,76.24 750.80,76.24 751.62,76.24 752.43,76.25 753.25,76.25 754.07,76.25 754.88,76.25 755.70,76.25"/>
<text x="86.00" y="33.08" class="tl" text-anchor="end">50</text>
<text x="86.00" y="81.83" class="tl" text-anchor="end">0</text>
<text x="86.00" y="130.58" class="tl" text-anchor="end">-50</text>
<text x="86.00" y="179.33" class="tl" text-anchor="end">-100</text>
<text x="86.00" y="228.08" class="tl" text-anchor="end">-150</text>
<text x="76.10" y="247.70" class="xt" textLength="18.3" lengthAdjust="spacingAndGlyphs">10</text>
<text x="95.70" y="240.60" class="sup" >-3</text>
<text x="219.04" y="247.70" class="xt" textLength="18.3" lengthAdjust="spacingAndGlyphs">10</text>
<text x="238.64" y="240.60" class="sup" >-2</text>
<text x="361.98" y="247.70" class="xt" textLength="18.3" lengthAdjust="spacingAndGlyphs">10</text>
<text x="381.58" y="240.60" class="sup" >-1</text>
<text x="506.12" y="247.70" class="xt" textLength="18.3" lengthAdjust="spacingAndGlyphs">10</text>
<text x="525.72" y="240.60" class="sup" >0</text>
<text x="649.06" y="247.70" class="xt" textLength="18.3" lengthAdjust="spacingAndGlyphs">10</text>
<text x="668.66" y="240.60" class="sup" >1</text>
<text x="792.00" y="247.70" class="xt" textLength="18.3" lengthAdjust="spacingAndGlyphs">10</text>
<text x="811.60" y="240.60" class="sup" >2</text>
<line x1="134.63" y1="299.5" x2="134.63" y2="494.5" stroke="#ebebeb" stroke-width="1" stroke-dasharray="1 3"/>
<line x1="159.80" y1="299.5" x2="159.80" y2="494.5" stroke="#ebebeb" stroke-width="1" stroke-dasharray="1 3"/>
<line x1="177.66" y1="299.5" x2="177.66" y2="494.5" stroke="#ebebeb" stroke-width="1" stroke-dasharray="1 3"/>
<line x1="191.51" y1="299.5" x2="191.51" y2="494.5" stroke="#ebebeb" stroke-width="1" stroke-dasharray="1 3"/>
<line x1="202.83" y1="299.5" x2="202.83" y2="494.5" stroke="#ebebeb" stroke-width="1" stroke-dasharray="1 3"/>
<line x1="212.40" y1="299.5" x2="212.40" y2="494.5" stroke="#ebebeb" stroke-width="1" stroke-dasharray="1 3"/>
<line x1="220.69" y1="299.5" x2="220.69" y2="494.5" stroke="#ebebeb" stroke-width="1" stroke-dasharray="1 3"/>
<line x1="228.00" y1="299.5" x2="228.00" y2="494.5" stroke="#ebebeb" stroke-width="1" stroke-dasharray="1 3"/>
<line x1="277.57" y1="299.5" x2="277.57" y2="494.5" stroke="#ebebeb" stroke-width="1" stroke-dasharray="1 3"/>
<line x1="302.74" y1="299.5" x2="302.74" y2="494.5" stroke="#ebebeb" stroke-width="1" stroke-dasharray="1 3"/>
<line x1="320.60" y1="299.5" x2="320.60" y2="494.5" stroke="#ebebeb" stroke-width="1" stroke-dasharray="1 3"/>
<line x1="334.45" y1="299.5" x2="334.45" y2="494.5" stroke="#ebebeb" stroke-width="1" stroke-dasharray="1 3"/>
<line x1="345.77" y1="299.5" x2="345.77" y2="494.5" stroke="#ebebeb" stroke-width="1" stroke-dasharray="1 3"/>
<line x1="355.34" y1="299.5" x2="355.34" y2="494.5" stroke="#ebebeb" stroke-width="1" stroke-dasharray="1 3"/>
<line x1="363.63" y1="299.5" x2="363.63" y2="494.5" stroke="#ebebeb" stroke-width="1" stroke-dasharray="1 3"/>
<line x1="370.94" y1="299.5" x2="370.94" y2="494.5" stroke="#ebebeb" stroke-width="1" stroke-dasharray="1 3"/>
<line x1="420.51" y1="299.5" x2="420.51" y2="494.5" stroke="#ebebeb" stroke-width="1" stroke-dasharray="1 3"/>
<line x1="445.68" y1="299.5" x2="445.68" y2="494.5" stroke="#ebebeb" stroke-width="1" stroke-dasharray="1 3"/>
<line x1="463.54" y1="299.5" x2="463.54" y2="494.5" stroke="#ebebeb" stroke-width="1" stroke-dasharray="1 3"/>
<line x1="477.39" y1="299.5" x2="477.39" y2="494.5" stroke="#ebebeb" stroke-width="1" stroke-dasharray="1 3"/>
<line x1="488.71" y1="299.5" x2="488.71" y2="494.5" stroke="#ebebeb" stroke-width="1" stroke-dasharray="1 3"/>
<line x1="498.28" y1="299.5" x2="498.28" y2="494.5" stroke="#ebebeb" stroke-width="1" stroke-dasharray="1 3"/>
<line x1="506.57" y1="299.5" x2="506.57" y2="494.5" stroke="#ebebeb" stroke-width="1" stroke-dasharray="1 3"/>
<line x1="513.88" y1="299.5" x2="513.88" y2="494.5" stroke="#ebebeb" stroke-width="1" stroke-dasharray="1 3"/>
<line x1="563.45" y1="299.5" x2="563.45" y2="494.5" stroke="#ebebeb" stroke-width="1" stroke-dasharray="1 3"/>
<line x1="588.62" y1="299.5" x2="588.62" y2="494.5" stroke="#ebebeb" stroke-width="1" stroke-dasharray="1 3"/>
<line x1="606.48" y1="299.5" x2="606.48" y2="494.5" stroke="#ebebeb" stroke-width="1" stroke-dasharray="1 3"/>
<line x1="620.33" y1="299.5" x2="620.33" y2="494.5" stroke="#ebebeb" stroke-width="1" stroke-dasharray="1 3"/>
<line x1="631.65" y1="299.5" x2="631.65" y2="494.5" stroke="#ebebeb" stroke-width="1" stroke-dasharray="1 3"/>
<line x1="641.22" y1="299.5" x2="641.22" y2="494.5" stroke="#ebebeb" stroke-width="1" stroke-dasharray="1 3"/>
<line x1="649.51" y1="299.5" x2="649.51" y2="494.5" stroke="#ebebeb" stroke-width="1" stroke-dasharray="1 3"/>
<line x1="656.82" y1="299.5" x2="656.82" y2="494.5" stroke="#ebebeb" stroke-width="1" stroke-dasharray="1 3"/>
<line x1="706.39" y1="299.5" x2="706.39" y2="494.5" stroke="#ebebeb" stroke-width="1" stroke-dasharray="1 3"/>
<line x1="731.56" y1="299.5" x2="731.56" y2="494.5" stroke="#ebebeb" stroke-width="1" stroke-dasharray="1 3"/>
<line x1="749.42" y1="299.5" x2="749.42" y2="494.5" stroke="#ebebeb" stroke-width="1" stroke-dasharray="1 3"/>
<line x1="763.27" y1="299.5" x2="763.27" y2="494.5" stroke="#ebebeb" stroke-width="1" stroke-dasharray="1 3"/>
<line x1="774.59" y1="299.5" x2="774.59" y2="494.5" stroke="#ebebeb" stroke-width="1" stroke-dasharray="1 3"/>
<line x1="784.16" y1="299.5" x2="784.16" y2="494.5" stroke="#ebebeb" stroke-width="1" stroke-dasharray="1 3"/>
<line x1="792.45" y1="299.5" x2="792.45" y2="494.5" stroke="#ebebeb" stroke-width="1" stroke-dasharray="1 3"/>
<line x1="799.76" y1="299.5" x2="799.76" y2="494.5" stroke="#ebebeb" stroke-width="1" stroke-dasharray="1 3"/>
<line x1="234.54" y1="299.5" x2="234.54" y2="494.5" stroke="#e6e6e6" stroke-width="1"/>
<line x1="377.48" y1="299.5" x2="377.48" y2="494.5" stroke="#e6e6e6" stroke-width="1"/>
<line x1="520.42" y1="299.5" x2="520.42" y2="494.5" stroke="#e6e6e6" stroke-width="1"/>
<line x1="663.36" y1="299.5" x2="663.36" y2="494.5" stroke="#e6e6e6" stroke-width="1"/>
<line x1="92.0" y1="348.25" x2="805.5" y2="348.25" stroke="#e6e6e6" stroke-width="1"/>
<line x1="92.0" y1="397.00" x2="805.5" y2="397.00" stroke="#e6e6e6" stroke-width="1"/>
<line x1="92.0" y1="445.75" x2="805.5" y2="445.75" stroke="#e6e6e6" stroke-width="1"/>
<line x1="234.54" y1="299.5" x2="234.54" y2="305.5" stroke="#606e7c" stroke-width="1.2"/>
<line x1="234.54" y1="494.5" x2="234.54" y2="488.5" stroke="#606e7c" stroke-width="1.2"/>
<line x1="377.48" y1="299.5" x2="377.48" y2="305.5" stroke="#606e7c" stroke-width="1.2"/>
<line x1="377.48" y1="494.5" x2="377.48" y2="488.5" stroke="#606e7c" stroke-width="1.2"/>
<line x1="520.42" y1="299.5" x2="520.42" y2="305.5" stroke="#606e7c" stroke-width="1.2"/>
<line x1="520.42" y1="494.5" x2="520.42" y2="488.5" stroke="#606e7c" stroke-width="1.2"/>
<line x1="663.36" y1="299.5" x2="663.36" y2="305.5" stroke="#606e7c" stroke-width="1.2"/>
<line x1="663.36" y1="494.5" x2="663.36" y2="488.5" stroke="#606e7c" stroke-width="1.2"/>
<line x1="134.63" y1="299.5" x2="134.63" y2="302.5" stroke="#606e7c" stroke-width="1"/>
<line x1="134.63" y1="494.5" x2="134.63" y2="491.5" stroke="#606e7c" stroke-width="1"/>
<line x1="159.80" y1="299.5" x2="159.80" y2="302.5" stroke="#606e7c" stroke-width="1"/>
<line x1="159.80" y1="494.5" x2="159.80" y2="491.5" stroke="#606e7c" stroke-width="1"/>
<line x1="177.66" y1="299.5" x2="177.66" y2="302.5" stroke="#606e7c" stroke-width="1"/>
<line x1="177.66" y1="494.5" x2="177.66" y2="491.5" stroke="#606e7c" stroke-width="1"/>
<line x1="191.51" y1="299.5" x2="191.51" y2="302.5" stroke="#606e7c" stroke-width="1"/>
<line x1="191.51" y1="494.5" x2="191.51" y2="491.5" stroke="#606e7c" stroke-width="1"/>
<line x1="202.83" y1="299.5" x2="202.83" y2="302.5" stroke="#606e7c" stroke-width="1"/>
<line x1="202.83" y1="494.5" x2="202.83" y2="491.5" stroke="#606e7c" stroke-width="1"/>
<line x1="212.40" y1="299.5" x2="212.40" y2="302.5" stroke="#606e7c" stroke-width="1"/>
<line x1="212.40" y1="494.5" x2="212.40" y2="491.5" stroke="#606e7c" stroke-width="1"/>
<line x1="220.69" y1="299.5" x2="220.69" y2="302.5" stroke="#606e7c" stroke-width="1"/>
<line x1="220.69" y1="494.5" x2="220.69" y2="491.5" stroke="#606e7c" stroke-width="1"/>
<line x1="228.00" y1="299.5" x2="228.00" y2="302.5" stroke="#606e7c" stroke-width="1"/>
<line x1="228.00" y1="494.5" x2="228.00" y2="491.5" stroke="#606e7c" stroke-width="1"/>
<line x1="277.57" y1="299.5" x2="277.57" y2="302.5" stroke="#606e7c" stroke-width="1"/>
<line x1="277.57" y1="494.5" x2="277.57" y2="491.5" stroke="#606e7c" stroke-width="1"/>
<line x1="302.74" y1="299.5" x2="302.74" y2="302.5" stroke="#606e7c" stroke-width="1"/>
<line x1="302.74" y1="494.5" x2="302.74" y2="491.5" stroke="#606e7c" stroke-width="1"/>
<line x1="320.60" y1="299.5" x2="320.60" y2="302.5" stroke="#606e7c" stroke-width="1"/>
<line x1="320.60" y1="494.5" x2="320.60" y2="491.5" stroke="#606e7c" stroke-width="1"/>
<line x1="334.45" y1="299.5" x2="334.45" y2="302.5" stroke="#606e7c" stroke-width="1"/>
<line x1="334.45" y1="494.5" x2="334.45" y2="491.5" stroke="#606e7c" stroke-width="1"/>
<line x1="345.77" y1="299.5" x2="345.77" y2="302.5" stroke="#606e7c" stroke-width="1"/>
<line x1="345.77" y1="494.5" x2="345.77" y2="491.5" stroke="#606e7c" stroke-width="1"/>
<line x1="355.34" y1="299.5" x2="355.34" y2="302.5" stroke="#606e7c" stroke-width="1"/>
<line x1="355.34" y1="494.5" x2="355.34" y2="491.5" stroke="#606e7c" stroke-width="1"/>
<line x1="363.63" y1="299.5" x2="363.63" y2="302.5" stroke="#606e7c" stroke-width="1"/>
<line x1="363.63" y1="494.5" x2="363.63" y2="491.5" stroke="#606e7c" stroke-width="1"/>
<line x1="370.94" y1="299.5" x2="370.94" y2="302.5" stroke="#606e7c" stroke-width="1"/>
<line x1="370.94" y1="494.5" x2="370.94" y2="491.5" stroke="#606e7c" stroke-width="1"/>
<line x1="420.51" y1="299.5" x2="420.51" y2="302.5" stroke="#606e7c" stroke-width="1"/>
<line x1="420.51" y1="494.5" x2="420.51" y2="491.5" stroke="#606e7c" stroke-width="1"/>
<line x1="445.68" y1="299.5" x2="445.68" y2="302.5" stroke="#606e7c" stroke-width="1"/>
<line x1="445.68" y1="494.5" x2="445.68" y2="491.5" stroke="#606e7c" stroke-width="1"/>
<line x1="463.54" y1="299.5" x2="463.54" y2="302.5" stroke="#606e7c" stroke-width="1"/>
<line x1="463.54" y1="494.5" x2="463.54" y2="491.5" stroke="#606e7c" stroke-width="1"/>
<line x1="477.39" y1="299.5" x2="477.39" y2="302.5" stroke="#606e7c" stroke-width="1"/>
<line x1="477.39" y1="494.5" x2="477.39" y2="491.5" stroke="#606e7c" stroke-width="1"/>
<line x1="488.71" y1="299.5" x2="488.71" y2="302.5" stroke="#606e7c" stroke-width="1"/>
<line x1="488.71" y1="494.5" x2="488.71" y2="491.5" stroke="#606e7c" stroke-width="1"/>
<line x1="498.28" y1="299.5" x2="498.28" y2="302.5" stroke="#606e7c" stroke-width="1"/>
<line x1="498.28" y1="494.5" x2="498.28" y2="491.5" stroke="#606e7c" stroke-width="1"/>
<line x1="506.57" y1="299.5" x2="506.57" y2="302.5" stroke="#606e7c" stroke-width="1"/>
<line x1="506.57" y1="494.5" x2="506.57" y2="491.5" stroke="#606e7c" stroke-width="1"/>
<line x1="513.88" y1="299.5" x2="513.88" y2="302.5" stroke="#606e7c" stroke-width="1"/>
<line x1="513.88" y1="494.5" x2="513.88" y2="491.5" stroke="#606e7c" stroke-width="1"/>
<line x1="563.45" y1="299.5" x2="563.45" y2="302.5" stroke="#606e7c" stroke-width="1"/>
<line x1="563.45" y1="494.5" x2="563.45" y2="491.5" stroke="#606e7c" stroke-width="1"/>
<line x1="588.62" y1="299.5" x2="588.62" y2="302.5" stroke="#606e7c" stroke-width="1"/>
<line x1="588.62" y1="494.5" x2="588.62" y2="491.5" stroke="#606e7c" stroke-width="1"/>
<line x1="606.48" y1="299.5" x2="606.48" y2="302.5" stroke="#606e7c" stroke-width="1"/>
<line x1="606.48" y1="494.5" x2="606.48" y2="491.5" stroke="#606e7c" stroke-width="1"/>
<line x1="620.33" y1="299.5" x2="620.33" y2="302.5" stroke="#606e7c" stroke-width="1"/>
<line x1="620.33" y1="494.5" x2="620.33" y2="491.5" stroke="#606e7c" stroke-width="1"/>
<line x1="631.65" y1="299.5" x2="631.65" y2="302.5" stroke="#606e7c" stroke-width="1"/>
<line x1="631.65" y1="494.5" x2="631.65" y2="491.5" stroke="#606e7c" stroke-width="1"/>
<line x1="641.22" y1="299.5" x2="641.22" y2="302.5" stroke="#606e7c" stroke-width="1"/>
<line x1="641.22" y1="494.5" x2="641.22" y2="491.5" stroke="#606e7c" stroke-width="1"/>
<line x1="649.51" y1="299.5" x2="649.51" y2="302.5" stroke="#606e7c" stroke-width="1"/>
<line x1="649.51" y1="494.5" x2="649.51" y2="491.5" stroke="#606e7c" stroke-width="1"/>
<line x1="656.82" y1="299.5" x2="656.82" y2="302.5" stroke="#606e7c" stroke-width="1"/>
<line x1="656.82" y1="494.5" x2="656.82" y2="491.5" stroke="#606e7c" stroke-width="1"/>
<line x1="706.39" y1="299.5" x2="706.39" y2="302.5" stroke="#606e7c" stroke-width="1"/>
<line x1="706.39" y1="494.5" x2="706.39" y2="491.5" stroke="#606e7c" stroke-width="1"/>
<line x1="731.56" y1="299.5" x2="731.56" y2="302.5" stroke="#606e7c" stroke-width="1"/>
<line x1="731.56" y1="494.5" x2="731.56" y2="491.5" stroke="#606e7c" stroke-width="1"/>
<line x1="749.42" y1="299.5" x2="749.42" y2="302.5" stroke="#606e7c" stroke-width="1"/>
<line x1="749.42" y1="494.5" x2="749.42" y2="491.5" stroke="#606e7c" stroke-width="1"/>
<line x1="763.27" y1="299.5" x2="763.27" y2="302.5" stroke="#606e7c" stroke-width="1"/>
<line x1="763.27" y1="494.5" x2="763.27" y2="491.5" stroke="#606e7c" stroke-width="1"/>
<line x1="774.59" y1="299.5" x2="774.59" y2="302.5" stroke="#606e7c" stroke-width="1"/>
<line x1="774.59" y1="494.5" x2="774.59" y2="491.5" stroke="#606e7c" stroke-width="1"/>
<line x1="784.16" y1="299.5" x2="784.16" y2="302.5" stroke="#606e7c" stroke-width="1"/>
<line x1="784.16" y1="494.5" x2="784.16" y2="491.5" stroke="#606e7c" stroke-width="1"/>
<line x1="792.45" y1="299.5" x2="792.45" y2="302.5" stroke="#606e7c" stroke-width="1"/>
<line x1="792.45" y1="494.5" x2="792.45" y2="491.5" stroke="#606e7c" stroke-width="1"/>
<line x1="799.76" y1="299.5" x2="799.76" y2="302.5" stroke="#606e7c" stroke-width="1"/>
<line x1="799.76" y1="494.5" x2="799.76" y2="491.5" stroke="#606e7c" stroke-width="1"/>
<line x1="92.0" y1="299.50" x2="98.0" y2="299.50" stroke="#606e7c" stroke-width="1.2"/>
<line x1="805.5" y1="299.50" x2="799.5" y2="299.50" stroke="#606e7c" stroke-width="1.2"/>
<line x1="92.0" y1="348.25" x2="98.0" y2="348.25" stroke="#606e7c" stroke-width="1.2"/>
<line x1="805.5" y1="348.25" x2="799.5" y2="348.25" stroke="#606e7c" stroke-width="1.2"/>
<line x1="92.0" y1="397.00" x2="98.0" y2="397.00" stroke="#606e7c" stroke-width="1.2"/>
<line x1="805.5" y1="397.00" x2="799.5" y2="397.00" stroke="#606e7c" stroke-width="1.2"/>
<line x1="92.0" y1="445.75" x2="98.0" y2="445.75" stroke="#606e7c" stroke-width="1.2"/>
<line x1="805.5" y1="445.75" x2="799.5" y2="445.75" stroke="#606e7c" stroke-width="1.2"/>
<line x1="92.0" y1="494.50" x2="98.0" y2="494.50" stroke="#606e7c" stroke-width="1.2"/>
<line x1="805.5" y1="494.50" x2="799.5" y2="494.50" stroke="#606e7c" stroke-width="1.2"/>
<rect x="92.0" y="299.5" width="713.5" height="195.0" fill="none" stroke="#606e7c" stroke-width="1.3"/>
<polyline fill="none" stroke="#4a6d91" stroke-width="1.35" stroke-linejoin="round" points="183.94,467.65 184.76,467.33 185.57,467.01 186.39,466.69 187.21,466.37 188.02,466.05 188.84,465.73 189.66,465.41 190.47,465.10 191.29,464.78 192.11,464.46 192.92,464.14 193.74,463.82 194.56,463.50 195.37,463.18 196.19,462.86 197.01,462.54 197.82,462.22 198.64,461.90 199.46,461.58 200.28,461.26 201.09,460.94 201.91,460.62 202.73,460.30 203.54,459.98 204.36,459.66 205.18,459.34 205.99,459.02 206.81,458.70 207.63,458.38 208.44,458.07 209.26,457.75 210.08,457.43 210.89,457.11 211.71,456.79 212.53,456.47 213.34,456.15 214.16,455.83 214.98,455.51 215.79,455.19 216.61,454.87 217.43,454.55 218.24,454.23 219.06,453.91 219.88,453.59 220.70,453.27 221.51,452.95 222.33,452.63 223.15,452.31 223.96,451.99 224.78,451.67 225.60,451.35 226.41,451.04 227.23,450.72 228.05,450.40 228.86,450.08 229.68,449.76 230.50,449.44 231.31,449.12 232.13,448.80 232.95,448.48 233.76,448.16 234.58,447.84 235.40,447.52 236.21,447.20 237.03,446.88 237.85,446.56 238.66,446.24 239.48,445.92 240.30,445.60 241.12,445.28 241.93,444.96 242.75,444.64 243.57,444.32 244.38,444.00 245.20,443.68 246.02,443.36 246.83,443.05 247.65,442.73 248.47,442.41 249.28,442.09 250.10,441.77 250.92,441.45 251.73,441.13 252.55,440.81 253.37,440.49 254.18,440.17 255.00,439.85 255.82,439.53 256.63,439.21 257.45,438.89 258.27,438.57 259.08,438.25 259.90,437.93 260.72,437.61 261.54,437.29 262.35,436.97 263.17,436.65 263.99,436.33 264.80,436.01 265.62,435.69 266.44,435.37 267.25,435.05 268.07,434.73 268.89,434.41 269.70,434.09 270.52,433.78 271.34,433.46 272.15,433.14 272.97,432.82 273.79,432.50 274.60,432.18 275.42,431.86 276.24,431.54 277.05,431.22 277.87,430.90 278.69,430.58 279.50,430.26 280.32,429.94 281.14,429.62 281.96,429.30 282.77,428.98 283.59,428.66 284.41,428.34 285.22,428.02 286.04,427.70 286.86,427.38 287.67,427.06 288.49,426.74 289.31,426.42 290.12,426.10 290.94,425.78 291.76,425.46 292.57,425.14 293.39,424.82 294.21,424.50 295.02,424.18 295.84,423.86 296.66,423.54 297.47,423.22 298.29,422.90 299.11,422.58 299.92,422.26 300.74,421.94 301.56,421.62 302.38,421.30 303.19,420.98 304.01,420.66 304.83,420.34 305.64,420.02 306.46,419.70 307.28,419.38 308.09,419.06 308.91,418.74 309.73,418.42 310.54,418.10 311.36,417.78 312.18,417.46 312.99,417.14 313.81,416.82 314.63,416.50 315.44,416.18 316.26,415.86 317.08,415.54 317.89,415.22 318.71,414.90 319.53,414.57 320.34,414.25 321.16,413.93 321.98,413.61 322.80,413.29 323.61,412.97 324.43,412.65 325.25,412.33 326.06,412.01 326.88,411.69 327.70,411.37 328.51,411.05 329.33,410.73 330.15,410.41 330.96,410.09 331.78,409.76 332.60,409.44 333.41,409.12 334.23,408.80 335.05,408.48 335.86,408.16 336.68,407.84 337.50,407.52 338.31,407.20 339.13,406.87 339.95,406.55 340.76,406.23 341.58,405.91 342.40,405.59 343.22,405.27 344.03,404.95 344.85,404.62 345.67,404.30 346.48,403.98 347.30,403.66 348.12,403.34 348.93,403.01 349.75,402.69 350.57,402.37 351.38,402.05 352.20,401.73 353.02,401.40 353.83,401.08 354.65,400.76 355.47,400.44 356.28,400.11 357.10,399.79 357.92,399.47 358.73,399.14 359.55,398.82 360.37,398.50 361.18,398.18 362.00,397.85 362.82,397.53 363.64,397.21 364.45,396.88 365.27,396.56 366.09,396.23 366.90,395.91 367.72,395.59 368.54,395.26 369.35,394.94 370.17,394.61 370.99,394.29 371.80,393.96 372.62,393.64 373.44,393.31 374.25,392.99 375.07,392.66 375.89,392.34 376.70,392.01 377.52,391.69 378.34,391.36 379.15,391.04 379.97,390.71 380.79,390.38 381.60,390.06 382.42,389.73 383.24,389.40 384.06,389.07 384.87,388.75 385.69,388.42 386.51,388.09 387.32,387.76 388.14,387.44 388.96,387.11 389.77,386.78 390.59,386.45 391.41,386.12 392.22,385.79 393.04,385.46 393.86,385.13 394.67,384.80 395.49,384.47 396.31,384.14 397.12,383.81 397.94,383.48 398.76,383.14 399.57,382.81 400.39,382.48 401.21,382.15 402.02,381.81 402.84,381.48 403.66,381.14 404.48,380.81 405.29,380.47 406.11,380.14 406.93,379.80 407.74,379.47 408.56,379.13 409.38,378.79 410.19,378.46 411.01,378.12 411.83,377.78 412.64,377.44 413.46,377.10 414.28,376.76 415.09,376.42 415.91,376.08 416.73,375.74 417.54,375.39 418.36,375.05 419.18,374.71 419.99,374.36 420.81,374.02 421.63,373.67 422.44,373.32 423.26,372.98 424.08,372.63 424.90,372.28 425.71,371.93 426.53,371.58 427.35,371.23 428.16,370.87 428.98,370.52 429.80,370.17 430.61,369.81 431.43,369.45 432.25,369.10 433.06,368.74 433.88,368.38 434.70,368.02 435.51,367.66 436.33,367.29 437.15,366.93 437.96,366.56 438.78,366.20 439.60,365.83 440.41,365.46 441.23,365.09 442.05,364.71 442.86,364.34 443.68,363.96 444.50,363.59 445.32,363.21 446.13,362.83 446.95,362.44 447.77,362.06 448.58,361.67 449.40,361.28 450.22,360.89 451.03,360.50 451.85,360.11 452.67,359.71 453.48,359.31 454.30,358.91 455.12,358.51 455.93,358.10 456.75,357.69 457.57,357.28 458.38,356.86 459.20,356.45 460.02,356.03 460.83,355.60 461.65,355.18 462.47,354.75 463.28,354.31 464.10,353.88 464.92,353.44 465.74,352.99 466.55,352.54 467.37,352.09 468.19,351.63 469.00,351.17 469.82,350.71 470.64,350.24 471.45,349.76 472.27,349.28 473.09,348.79 473.90,348.30 474.72,347.80 475.54,347.30 476.35,346.79 477.17,346.28 477.99,345.75 478.80,345.22 479.62,344.69 480.44,344.14 481.25,343.59 482.07,343.03 482.89,342.46 483.70,341.88 484.52,341.29 485.34,340.69 486.16,340.08 486.97,339.46 487.79,338.83 488.61,338.19 489.42,337.54 490.24,336.87 491.06,336.18 491.87,335.49 492.69,334.77 493.51,334.05 494.32,333.30 495.14,332.54 495.96,331.75 496.77,330.95 497.59,330.13 498.41,329.28 499.22,328.41 500.04,327.52 500.86,326.59 501.67,325.65 502.49,324.67 503.31,323.66 504.12,322.61 504.94,321.54 505.76,320.42 506.58,319.27 507.39,318.08 508.21,316.85 509.03,315.58 509.84,314.27 510.66,312.92 511.48,311.53 512.29,310.11 513.11,308.67 513.93,307.23 514.74,305.79 515.56,304.40 516.38,303.09 517.19,301.90 518.01,300.90 518.83,300.13 519.64,299.65 520.46,299.50 521.28,299.69 522.09,300.20 522.91,300.99 523.73,302.02 524.54,303.22 525.36,304.54 526.18,305.94 527.00,307.37 527.81,308.82 528.63,310.25 529.45,311.67 530.26,313.05 531.08,314.40 531.90,315.71 532.71,316.98 533.53,318.20 534.35,319.39 535.16,320.54 535.98,321.65 536.80,322.72 537.61,323.76 538.43,324.77 539.25,325.74 540.06,326.69 540.88,327.61 541.70,328.50 542.51,329.37 543.33,330.21 544.15,331.03 544.96,331.83 545.78,332.61 546.60,333.37 547.42,334.12 548.23,334.85 549.05,335.56 549.87,336.25 550.68,336.93 551.50,337.60 552.32,338.26 553.13,338.90 553.95,339.53 554.77,340.15 555.58,340.75 556.40,341.35 557.22,341.94 558.03,342.52 558.85,343.08 559.67,343.64 560.48,344.20 561.30,344.74 562.12,345.28 562.93,345.81 563.75,346.33 564.57,346.84 565.38,347.35 566.20,347.85 567.02,348.35 567.84,348.84 568.65,349.33 569.47,349.81 570.29,350.28 571.10,350.75 571.92,351.22 572.74,351.68 573.55,352.14 574.37,352.59 575.19,353.04 576.00,353.48 576.82,353.92 577.64,354.36 578.45,354.79 579.27,355.22 580.09,355.65 580.90,356.07 581.72,356.49 582.54,356.91 583.35,357.32 584.17,357.73 584.99,358.14 585.80,358.55 586.62,358.95 587.44,359.35 588.26,359.75 589.07,360.15 589.89,360.54 590.71,360.93 591.52,361.32 592.34,361.71 593.16,362.10 593.97,362.48 594.79,362.86 595.61,363.25 596.42,363.62 597.24,364.00 598.06,364.38 598.87,364.75 599.69,365.12 600.51,365.49 601.32,365.86 602.14,366.23 602.96,366.60 603.77,366.96 604.59,367.33 605.41,367.69 606.22,368.05 607.04,368.41 607.86,368.77 608.68,369.13 609.49,369.49 610.31,369.85 611.13,370.20 611.94,370.56 612.76,370.91 613.58,371.26 614.39,371.61 615.21,371.96 616.03,372.31 616.84,372.66 617.66,373.01 618.48,373.36 619.29,373.70 620.11,374.05 620.93,374.40 621.74,374.74 622.56,375.08 623.38,375.43 624.19,375.77 625.01,376.11 625.83,376.45 626.64,376.79 627.46,377.13 628.28,377.47 629.10,377.81 629.91,378.15 630.73,378.49 631.55,378.83 632.36,379.16 633.18,379.50 634.00,379.84 634.81,380.17 635.63,380.51 636.45,380.84 637.26,381.18 638.08,381.51 638.90,381.85 639.71,382.18 640.53,382.51 641.35,382.84 642.16,383.18 642.98,383.51 643.80,383.84 644.61,384.17 645.43,384.50 646.25,384.83 647.06,385.16 647.88,385.49 648.70,385.82 649.52,386.15 650.33,386.48 651.15,386.81 651.97,387.14 652.78,387.47 653.60,387.80 654.42,388.12 655.23,388.45 656.05,388.78 656.87,389.11 657.68,389.43 658.50,389.76 659.32,390.09 660.13,390.42 660.95,390.74 661.77,391.07 662.58,391.39 663.40,391.72 664.22,392.05 665.03,392.37 665.85,392.70 666.67,393.02 667.48,393.35 668.30,393.67 669.12,394.00 669.94,394.32 670.75,394.65 671.57,394.97 672.39,395.29 673.20,395.62 674.02,395.94 674.84,396.27 675.65,396.59 676.47,396.91 677.29,397.24 678.10,397.56 678.92,397.88 679.74,398.21 680.55,398.53 681.37,398.85 682.19,399.18 683.00,399.50 683.82,399.82 684.64,400.15 685.45,400.47 686.27,400.79 687.09,401.11 687.90,401.44 688.72,401.76 689.54,402.08 690.36,402.40 691.17,402.72 691.99,403.05 692.81,403.37 693.62,403.69 694.44,404.01 695.26,404.33 696.07,404.66 696.89,404.98 697.71,405.30 698.52,405.62 699.34,405.94 700.16,406.26 700.97,406.58 701.79,406.91 702.61,407.23 703.42,407.55 704.24,407.87 705.06,408.19 705.87,408.51 706.69,408.83 707.51,409.15 708.32,409.48 709.14,409.80 709.96,410.12 710.78,410.44 711.59,410.76 712.41,411.08 713.23,411.40 714.04,411.72 714.86,412.04 715.68,412.36 716.49,412.68 717.31,413.00 718.13,413.32 718.94,413.65 719.76,413.97 720.58,414.29 721.39,414.61 722.21,414.93 723.03,415.25 723.84,415.57 724.66,415.89 725.48,416.21 726.29,416.53 727.11,416.85 727.93,417.17 728.74,417.49 729.56,417.81 730.38,418.13 731.20,418.45 732.01,418.77 732.83,419.09 733.65,419.41 734.46,419.73 735.28,420.05 736.10,420.37 736.91,420.69 737.73,421.01 738.55,421.33 739.36,421.65 740.18,421.97 741.00,422.29 741.81,422.61 742.63,422.93 743.45,423.25 744.26,423.57 745.08,423.89 745.90,424.21 746.71,424.53 747.53,424.85 748.35,425.17 749.16,425.49 749.98,425.81 750.80,426.13 751.62,426.45 752.43,426.77 753.25,427.09 754.07,427.41 754.88,427.73 755.70,428.05"/>
<polyline fill="none" stroke="#d86a3e" stroke-width="1.35" stroke-linejoin="round" points="183.94,450.82 184.76,450.50 185.57,450.18 186.39,449.86 187.21,449.54 188.02,449.22 188.84,448.90 189.66,448.58 190.47,448.26 191.29,447.94 192.11,447.62 192.92,447.30 193.74,446.98 194.56,446.67 195.37,446.35 196.19,446.03 197.01,445.71 197.82,445.39 198.64,445.07 199.46,444.75 200.28,444.43 201.09,444.11 201.91,443.79 202.73,443.47 203.54,443.15 204.36,442.83 205.18,442.51 205.99,442.19 206.81,441.87 207.63,441.55 208.44,441.23 209.26,440.91 210.08,440.59 210.89,440.27 211.71,439.95 212.53,439.64 213.34,439.32 214.16,439.00 214.98,438.68 215.79,438.36 216.61,438.04 217.43,437.72 218.24,437.40 219.06,437.08 219.88,436.76 220.70,436.44 221.51,436.12 222.33,435.80 223.15,435.48 223.96,435.16 224.78,434.84 225.60,434.52 226.41,434.20 227.23,433.88 228.05,433.56 228.86,433.24 229.68,432.92 230.50,432.60 231.31,432.29 232.13,431.97 232.95,431.65 233.76,431.33 234.58,431.01 235.40,430.69 236.21,430.37 237.03,430.05 237.85,429.73 238.66,429.41 239.48,429.09 240.30,428.77 241.12,428.45 241.93,428.13 242.75,427.81 243.57,427.49 244.38,427.17 245.20,426.85 246.02,426.53 246.83,426.21 247.65,425.89 248.47,425.57 249.28,425.25 250.10,424.93 250.92,424.62 251.73,424.30 252.55,423.98 253.37,423.66 254.18,423.34 255.00,423.02 255.82,422.70 256.63,422.38 257.45,422.06 258.27,421.74 259.08,421.42 259.90,421.10 260.72,420.78 261.54,420.46 262.35,420.14 263.17,419.82 263.99,419.50 264.80,419.18 265.62,418.86 266.44,418.54 267.25,418.22 268.07,417.90 268.89,417.58 269.70,417.26 270.52,416.94 271.34,416.62 272.15,416.30 272.97,415.98 273.79,415.66 274.60,415.34 275.42,415.03 276.24,414.71 277.05,414.39 277.87,414.07 278.69,413.75 279.50,413.43 280.32,413.11 281.14,412.79 281.96,412.47 282.77,412.15 283.59,411.83 284.41,411.51 285.22,411.19 286.04,410.87 286.86,410.55 287.67,410.23 288.49,409.91 289.31,409.59 290.12,409.27 290.94,408.95 291.76,408.63 292.57,408.31 293.39,407.99 294.21,407.67 295.02,407.35 295.84,407.03 296.66,406.71 297.47,406.39 298.29,406.07 299.11,405.75 299.92,405.43 300.74,405.11 301.56,404.79 302.38,404.47 303.19,404.15 304.01,403.83 304.83,403.51 305.64,403.19 306.46,402.87 307.28,402.55 308.09,402.23 308.91,401.91 309.73,401.59 310.54,401.27 311.36,400.95 312.18,400.63 312.99,400.31 313.81,399.99 314.63,399.67 315.44,399.35 316.26,399.03 317.08,398.71 317.89,398.39 318.71,398.07 319.53,397.75 320.34,397.42 321.16,397.10 321.98,396.78 322.80,396.46 323.61,396.14 324.43,395.82 325.25,395.50 326.06,395.18 326.88,394.86 327.70,394.54 328.51,394.22 329.33,393.90 330.15,393.58 330.96,393.26 331.78,392.94 332.60,392.62 333.41,392.29 334.23,391.97 335.05,391.65 335.86,391.33 336.68,391.01 337.50,390.69 338.31,390.37 339.13,390.05 339.95,389.73 340.76,389.40 341.58,389.08 342.40,388.76 343.22,388.44 344.03,388.12 344.85,387.80 345.67,387.48 346.48,387.15 347.30,386.83 348.12,386.51 348.93,386.19 349.75,385.87 350.57,385.55 351.38,385.22 352.20,384.90 353.02,384.58 353.83,384.26 354.65,383.93 355.47,383.61 356.28,383.29 357.10,382.97 357.92,382.64 358.73,382.32 359.55,382.00 360.37,381.68 361.18,381.35 362.00,381.03 362.82,380.71 363.64,380.38 364.45,380.06 365.27,379.74 366.09,379.41 366.90,379.09 367.72,378.77 368.54,378.44 369.35,378.12 370.17,377.80 370.99,377.47 371.80,377.15 372.62,376.82 373.44,376.50 374.25,376.17 375.07,375.85 375.89,375.52 376.70,375.20 377.52,374.87 378.34,374.55 379.15,374.22 379.97,373.90 380.79,373.57 381.60,373.24 382.42,372.92 383.24,372.59 384.06,372.27 384.87,371.94 385.69,371.61 386.51,371.28 387.32,370.96 388.14,370.63 388.96,370.30 389.77,369.97 390.59,369.65 391.41,369.32 392.22,368.99 393.04,368.66 393.86,368.33 394.67,368.00 395.49,367.67 396.31,367.34 397.12,367.01 397.94,366.68 398.76,366.35 399.57,366.02 400.39,365.69 401.21,365.35 402.02,365.02 402.84,364.69 403.66,364.36 404.48,364.02 405.29,363.69 406.11,363.35 406.93,363.02 407.74,362.69 408.56,362.35 409.38,362.01 410.19,361.68 411.01,361.34 411.83,361.00 412.64,360.67 413.46,360.33 414.28,359.99 415.09,359.65 415.91,359.31 416.73,358.97 417.54,358.63 418.36,358.29 419.18,357.95 419.99,357.61 420.81,357.26 421.63,356.92 422.44,356.57 423.26,356.23 424.08,355.88 424.90,355.54 425.71,355.19 426.53,354.84 427.35,354.49 428.16,354.14 428.98,353.79 429.80,353.44 430.61,353.09 431.43,352.74 432.25,352.38 433.06,352.03 433.88,351.67 434.70,351.31 435.51,350.96 436.33,350.60 437.15,350.24 437.96,349.87 438.78,349.51 439.60,349.15 440.41,348.78 441.23,348.42 442.05,348.05 442.86,347.68 443.68,347.31 444.50,346.94 445.32,346.56 446.13,346.19 446.95,345.81 447.77,345.44 448.58,345.06 449.40,344.67 450.22,344.29 451.03,343.91 451.85,343.52 452.67,343.13 453.48,342.74 454.30,342.35 455.12,341.95 455.93,341.56 456.75,341.16 457.57,340.76 458.38,340.35 459.20,339.94 460.02,339.54 460.83,339.12 461.65,338.71 462.47,338.29 463.28,337.87 464.10,337.45 464.92,337.02 465.74,336.60 466.55,336.16 467.37,335.73 468.19,335.29 469.00,334.84 469.82,334.40 470.64,333.95 471.45,333.49 472.27,333.04 473.09,332.57 473.90,332.11 474.72,331.64 475.54,331.16 476.35,330.68 477.17,330.19 477.99,329.70 478.80,329.21 479.62,328.70 480.44,328.20 481.25,327.68 482.07,327.17 482.89,326.64 483.70,326.11 484.52,325.57 485.34,325.03 486.16,324.48 486.97,323.92 487.79,323.35 488.61,322.78 489.42,322.20 490.24,321.61 491.06,321.01 491.87,320.40 492.69,319.79 493.51,319.16 494.32,318.53 495.14,317.89 495.96,317.24 496.77,316.58 497.59,315.91 498.41,315.24 499.22,314.55 500.04,313.86 500.86,313.15 501.67,312.44 502.49,311.72 503.31,311.00 504.12,310.27 504.94,309.53 505.76,308.80 506.58,308.06 507.39,307.33 508.21,306.59 509.03,305.87 509.84,305.16 510.66,304.46 511.48,303.79 512.29,303.14 513.11,302.52 513.93,301.94 514.74,301.40 515.56,300.92 516.38,300.50 517.19,300.15 518.01,299.87 518.83,299.66 519.64,299.54 520.46,299.50 521.28,299.55 522.09,299.68 522.91,299.89 523.73,300.18 524.54,300.54 525.36,300.97 526.18,301.46 527.00,301.99 527.81,302.58 528.63,303.20 529.45,303.85 530.26,304.53 531.08,305.23 531.90,305.94 532.71,306.67 533.53,307.40 534.35,308.13 535.16,308.87 535.98,309.61 536.80,310.34 537.61,311.07 538.43,311.80 539.25,312.51 540.06,313.22 540.88,313.93 541.70,314.62 542.51,315.30 543.33,315.98 544.15,316.65 544.96,317.31 545.78,317.96 546.60,318.60 547.42,319.23 548.23,319.85 549.05,320.46 549.87,321.07 550.68,321.67 551.50,322.25 552.32,322.83 553.13,323.41 553.95,323.97 554.77,324.53 555.58,325.08 556.40,325.63 557.22,326.16 558.03,326.69 558.85,327.22 559.67,327.74 560.48,328.25 561.30,328.75 562.12,329.26 562.93,329.75 563.75,330.24 564.57,330.73 565.38,331.21 566.20,331.68 567.02,332.15 567.84,332.62 568.65,333.08 569.47,333.54 570.29,333.99 571.10,334.44 571.92,334.89 572.74,335.33 573.55,335.77 574.37,336.21 575.19,336.64 576.00,337.07 576.82,337.49 577.64,337.92 578.45,338.33 579.27,338.75 580.09,339.17 580.90,339.58 581.72,339.99 582.54,340.39 583.35,340.80 584.17,341.20 584.99,341.60 585.80,341.99 586.62,342.39 587.44,342.78 588.26,343.17 589.07,343.56 589.89,343.95 590.71,344.33 591.52,344.71 592.34,345.09 593.16,345.47 593.97,345.85 594.79,346.23 595.61,346.60 596.42,346.98 597.24,347.35 598.06,347.72 598.87,348.09 599.69,348.45 600.51,348.82 601.32,349.18 602.14,349.55 602.96,349.91 603.77,350.27 604.59,350.63 605.41,350.99 606.22,351.35 607.04,351.71 607.86,352.06 608.68,352.42 609.49,352.77 610.31,353.12 611.13,353.48 611.94,353.83 612.76,354.18 613.58,354.53 614.39,354.88 615.21,355.22 616.03,355.57 616.84,355.92 617.66,356.26 618.48,356.61 619.29,356.95 620.11,357.30 620.93,357.64 621.74,357.98 622.56,358.32 623.38,358.66 624.19,359.01 625.01,359.35 625.83,359.69 626.64,360.02 627.46,360.36 628.28,360.70 629.10,361.04 629.91,361.38 630.73,361.71 631.55,362.05 632.36,362.38 633.18,362.72 634.00,363.05 634.81,363.39 635.63,363.72 636.45,364.06 637.26,364.39 638.08,364.72 638.90,365.05 639.71,365.39 640.53,365.72 641.35,366.05 642.16,366.38 642.98,366.71 643.80,367.04 644.61,367.37 645.43,367.70 646.25,368.03 647.06,368.36 647.88,368.69 648.70,369.02 649.52,369.35 650.33,369.68 651.15,370.01 651.97,370.33 652.78,370.66 653.60,370.99 654.42,371.32 655.23,371.64 656.05,371.97 656.87,372.30 657.68,372.62 658.50,372.95 659.32,373.28 660.13,373.60 660.95,373.93 661.77,374.25 662.58,374.58 663.40,374.91 664.22,375.23 665.03,375.56 665.85,375.88 666.67,376.21 667.48,376.53 668.30,376.85 669.12,377.18 669.94,377.50 670.75,377.83 671.57,378.15 672.39,378.48 673.20,378.80 674.02,379.12 674.84,379.45 675.65,379.77 676.47,380.09 677.29,380.42 678.10,380.74 678.92,381.06 679.74,381.39 680.55,381.71 681.37,382.03 682.19,382.35 683.00,382.68 683.82,383.00 684.64,383.32 685.45,383.64 686.27,383.97 687.09,384.29 687.90,384.61 688.72,384.93 689.54,385.26 690.36,385.58 691.17,385.90 691.99,386.22 692.81,386.54 693.62,386.86 694.44,387.19 695.26,387.51 696.07,387.83 696.89,388.15 697.71,388.47 698.52,388.79 699.34,389.12 700.16,389.44 700.97,389.76 701.79,390.08 702.61,390.40 703.42,390.72 704.24,391.04 705.06,391.36 705.87,391.68 706.69,392.01 707.51,392.33 708.32,392.65 709.14,392.97 709.96,393.29 710.78,393.61 711.59,393.93 712.41,394.25 713.23,394.57 714.04,394.89 714.86,395.21 715.68,395.53 716.49,395.85 717.31,396.17 718.13,396.50 718.94,396.82 719.76,397.14 720.58,397.46 721.39,397.78 722.21,398.10 723.03,398.42 723.84,398.74 724.66,399.06 725.48,399.38 726.29,399.70 727.11,400.02 727.93,400.34 728.74,400.66 729.56,400.98 730.38,401.30 731.20,401.62 732.01,401.94 732.83,402.26 733.65,402.58 734.46,402.90 735.28,403.22 736.10,403.54 736.91,403.86 737.73,404.18 738.55,404.50 739.36,404.82 740.18,405.14 741.00,405.46 741.81,405.78 742.63,406.10 743.45,406.42 744.26,406.74 745.08,407.06 745.90,407.38 746.71,407.70 747.53,408.02 748.35,408.34 749.16,408.66 749.98,408.98 750.80,409.30 751.62,409.62 752.43,409.94 753.25,410.26 754.07,410.58 754.88,410.90 755.70,411.22"/>
<text x="86.00" y="305.08" class="tl" text-anchor="end">0</text>
<text x="86.00" y="353.83" class="tl" text-anchor="end">-20</text>
<text x="86.00" y="402.58" class="tl" text-anchor="end">-40</text>
<text x="86.00" y="451.33" class="tl" text-anchor="end">-60</text>
<text x="86.00" y="500.08" class="tl" text-anchor="end">-80</text>
<text x="76.10" y="519.70" class="xt" textLength="18.3" lengthAdjust="spacingAndGlyphs">10</text>
<text x="95.70" y="512.60" class="sup" >-3</text>
<text x="219.04" y="519.70" class="xt" textLength="18.3" lengthAdjust="spacingAndGlyphs">10</text>
<text x="238.64" y="512.60" class="sup" >-2</text>
<text x="361.98" y="519.70" class="xt" textLength="18.3" lengthAdjust="spacingAndGlyphs">10</text>
<text x="381.58" y="512.60" class="sup" >-1</text>
<text x="506.12" y="519.70" class="xt" textLength="18.3" lengthAdjust="spacingAndGlyphs">10</text>
<text x="525.72" y="512.60" class="sup" >0</text>
<text x="649.06" y="519.70" class="xt" textLength="18.3" lengthAdjust="spacingAndGlyphs">10</text>
<text x="668.66" y="512.60" class="sup" >1</text>
<text x="792.00" y="519.70" class="xt" textLength="18.3" lengthAdjust="spacingAndGlyphs">10</text>
<text x="811.60" y="512.60" class="sup" >2</text>
<g transform="translate(35.8,188.4) rotate(-90)"><text x="0.00" y="0.00" class="yl" textLength="12.20" lengthAdjust="spacingAndGlyphs">T</text><text x="12.10" y="8.30" class="ys" textLength="26.80" lengthAdjust="spacingAndGlyphs">RCL</text><text x="38.90" y="0.00" class="yl" textLength="44.20" lengthAdjust="spacingAndGlyphs">norm</text><text x="89.90" y="0.00" class="yl" textLength="34.30" lengthAdjust="spacingAndGlyphs">(dB)</text></g>
<g transform="translate(45.5,461.5) rotate(-90)"><text x="0.00" y="0.00" class="yl" textLength="10.40" lengthAdjust="spacingAndGlyphs">T</text><text x="11.70" y="8.70" class="ys" textLength="25.60" lengthAdjust="spacingAndGlyphs">CLR</text><text x="44.80" y="0.00" class="yl" textLength="43.10" lengthAdjust="spacingAndGlyphs">norm</text><text x="96.00" y="0.00" class="yl" textLength="32.50" lengthAdjust="spacingAndGlyphs">(dB)</text></g>
<text x="362.00" y="540.90" class="xl" textLength="172.6" lengthAdjust="spacingAndGlyphs">Reduced pulsation x</text>
<rect x="601.5" y="131.3" width="170.8" height="36.2" fill="#fff" stroke="#555" stroke-width="1.4"/>
<line x1="604.3" y1="141.00" x2="640.5" y2="141.00" stroke="#8698ad" stroke-width="1.8"/>
<line x1="604.3" y1="159.00" x2="640.5" y2="159.00" stroke="#d49a86" stroke-width="1.8"/>
<text x="643.8" y="145.60000000000002" class="lg"><tspan textLength="44" lengthAdjust="spacingAndGlyphs">Q=4.5</tspan><tspan x="695.4">;</tspan><tspan x="703.4" textLength="43.2" lengthAdjust="spacingAndGlyphs">R=10</tspan><tspan x="748.3" class="om">&#937;</tspan></text>
<text x="643.8" y="163.4" class="lg"><tspan textLength="52.4" lengthAdjust="spacingAndGlyphs">Q=2.25</tspan><tspan x="704" >;</tspan><tspan x="712.2" textLength="41.5" lengthAdjust="spacingAndGlyphs">R=20</tspan><tspan x="757.7" class="om">&#937;</tspan></text>
<rect x="601.5" y="451.5" width="170.8" height="36.2" fill="#fff" stroke="#555" stroke-width="1.4"/>
<line x1="604.3" y1="461.20" x2="640.5" y2="461.20" stroke="#8698ad" stroke-width="1.8"/>
<line x1="604.3" y1="479.20" x2="640.5" y2="479.20" stroke="#d49a86" stroke-width="1.8"/>
<text x="643.8" y="465.8" class="lg"><tspan textLength="44" lengthAdjust="spacingAndGlyphs">Q=4.5</tspan><tspan x="695.4">;</tspan><tspan x="703.4" textLength="43.2" lengthAdjust="spacingAndGlyphs">R=10</tspan><tspan x="748.3" class="om">&#937;</tspan></text>
<text x="643.8" y="483.6" class="lg"><tspan textLength="52.4" lengthAdjust="spacingAndGlyphs">Q=2.25</tspan><tspan x="704" >;</tspan><tspan x="712.2" textLength="41.5" lengthAdjust="spacingAndGlyphs">R=20</tspan><tspan x="757.7" class="om">&#937;</tspan></text>
<rect x="627" y="522" width="202" height="28" fill="#fdfdfd"/>
<text x="645.00" y="540.60" class="wm" textLength="164" lengthAdjust="spacingAndGlyphs">www.cntronics.com</text>
</svg>
</body></html>
